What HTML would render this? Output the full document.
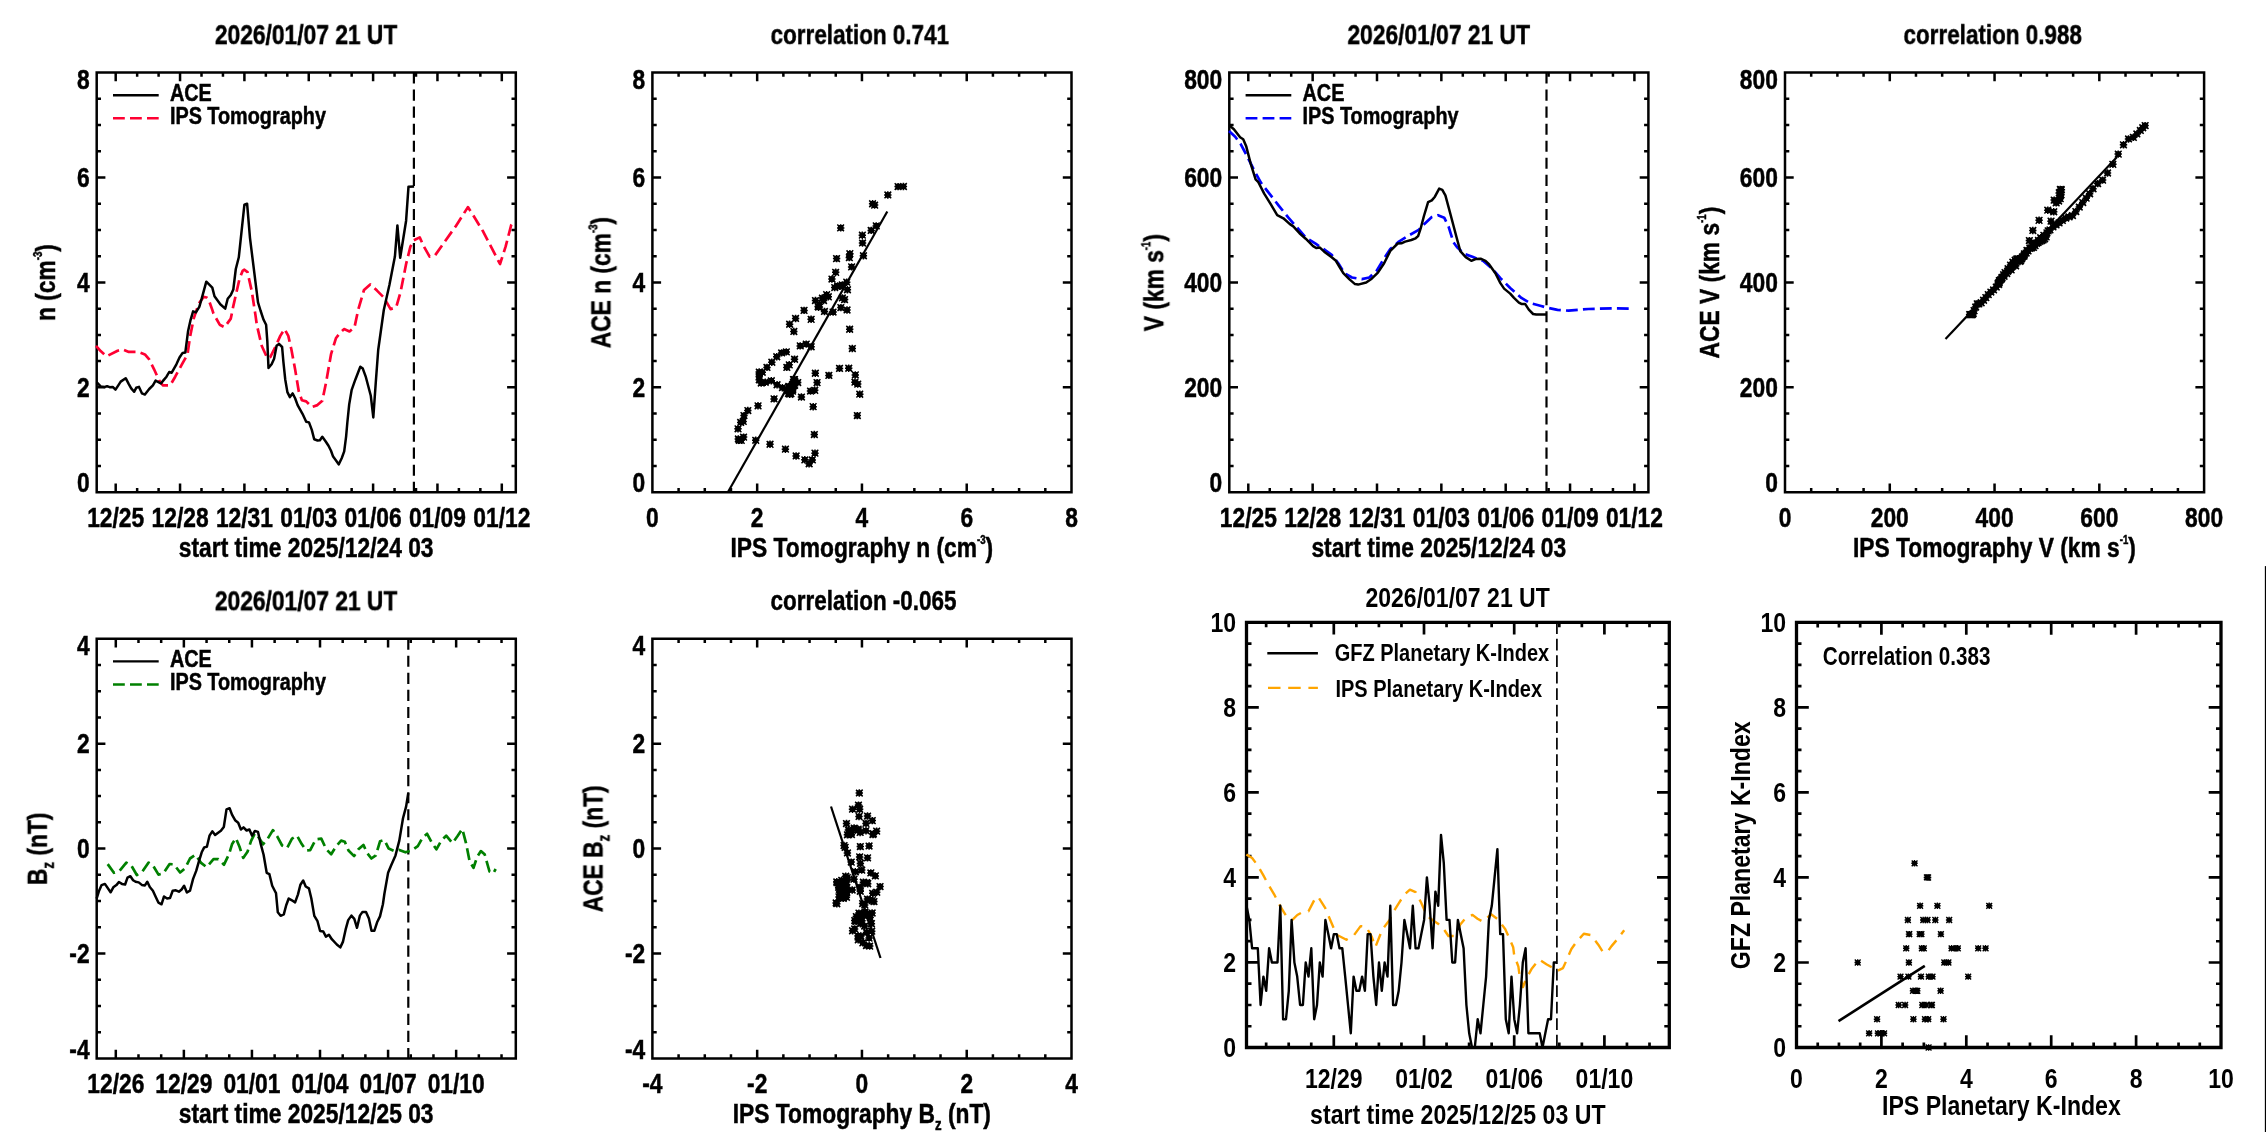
<!DOCTYPE html>
<html><head><meta charset="utf-8"><title>IPS Tomography vs ACE</title>
<style>html,body{margin:0;padding:0;background:#fff}svg{display:block;will-change:transform}</style></head>
<body>
<svg width="2266" height="1132" viewBox="0 0 2266 1132" font-family="Liberation Sans, sans-serif" font-weight="bold" fill="#000">
<rect width="2266" height="1132" fill="#fff"/>
<filter id="soft" filterUnits="userSpaceOnUse" x="0" y="0" width="2266" height="1132"><feGaussianBlur stdDeviation="0.5"/></filter>
<g filter="url(#soft)">
<path d="M96.70 72.50H515.80V492.30H96.70ZM115.70 492.30v-8.7M115.70 72.50v8.7M180.05 492.30v-8.7M180.05 72.50v8.7M244.40 492.30v-8.7M244.40 72.50v8.7M308.75 492.30v-8.7M308.75 72.50v8.7M373.10 492.30v-8.7M373.10 72.50v8.7M437.45 492.30v-8.7M437.45 72.50v8.7M501.80 492.30v-8.7M501.80 72.50v8.7M137.15 492.30v-4.3M137.15 72.50v4.3M158.60 492.30v-4.3M158.60 72.50v4.3M201.50 492.30v-4.3M201.50 72.50v4.3M222.95 492.30v-4.3M222.95 72.50v4.3M265.85 492.30v-4.3M265.85 72.50v4.3M287.30 492.30v-4.3M287.30 72.50v4.3M330.20 492.30v-4.3M330.20 72.50v4.3M351.65 492.30v-4.3M351.65 72.50v4.3M394.55 492.30v-4.3M394.55 72.50v4.3M416.00 492.30v-4.3M416.00 72.50v4.3M458.90 492.30v-4.3M458.90 72.50v4.3M480.35 492.30v-4.3M480.35 72.50v4.3M96.70 387.35h8.7M515.80 387.35h-8.7M96.70 282.40h8.7M515.80 282.40h-8.7M96.70 177.45h8.7M515.80 177.45h-8.7M96.70 466.06h4.3M515.80 466.06h-4.3M96.70 439.82h4.3M515.80 439.82h-4.3M96.70 413.59h4.3M515.80 413.59h-4.3M96.70 361.11h4.3M515.80 361.11h-4.3M96.70 334.88h4.3M515.80 334.88h-4.3M96.70 308.64h4.3M515.80 308.64h-4.3M96.70 256.16h4.3M515.80 256.16h-4.3M96.70 229.93h4.3M515.80 229.93h-4.3M96.70 203.69h4.3M515.80 203.69h-4.3M96.70 151.21h4.3M515.80 151.21h-4.3M96.70 124.98h4.3M515.80 124.98h-4.3M96.70 98.74h4.3M515.80 98.74h-4.3" fill="none" stroke="#000" stroke-width="2.5" stroke-linejoin="miter"/>
<text transform="translate(115.70,526.60) scale(0.8,1)" font-size="28.5" text-anchor="middle" stroke="#000" stroke-width="0.5">12/25</text>
<text transform="translate(180.05,526.60) scale(0.8,1)" font-size="28.5" text-anchor="middle" stroke="#000" stroke-width="0.5">12/28</text>
<text transform="translate(244.40,526.60) scale(0.8,1)" font-size="28.5" text-anchor="middle" stroke="#000" stroke-width="0.5">12/31</text>
<text transform="translate(308.75,526.60) scale(0.8,1)" font-size="28.5" text-anchor="middle" stroke="#000" stroke-width="0.5">01/03</text>
<text transform="translate(373.10,526.60) scale(0.8,1)" font-size="28.5" text-anchor="middle" stroke="#000" stroke-width="0.5">01/06</text>
<text transform="translate(437.45,526.60) scale(0.8,1)" font-size="28.5" text-anchor="middle" stroke="#000" stroke-width="0.5">01/09</text>
<text transform="translate(501.80,526.60) scale(0.8,1)" font-size="28.5" text-anchor="middle" stroke="#000" stroke-width="0.5">01/12</text>
<text transform="translate(89.60,492.40) scale(0.8,1)" font-size="28.5" text-anchor="end" stroke="#000" stroke-width="0.5">0</text>
<text transform="translate(89.60,397.10) scale(0.8,1)" font-size="28.5" text-anchor="end" stroke="#000" stroke-width="0.5">2</text>
<text transform="translate(89.60,292.15) scale(0.8,1)" font-size="28.5" text-anchor="end" stroke="#000" stroke-width="0.5">4</text>
<text transform="translate(89.60,187.20) scale(0.8,1)" font-size="28.5" text-anchor="end" stroke="#000" stroke-width="0.5">6</text>
<text transform="translate(89.60,88.90) scale(0.8,1)" font-size="28.5" text-anchor="end" stroke="#000" stroke-width="0.5">8</text>
<text transform="translate(306.10,44.10) scale(0.8,1)" font-size="28.5" text-anchor="middle" stroke="#000" stroke-width="0.5">2026/01/07 21 UT</text>
<text transform="translate(306.15,556.80) scale(0.8,1)" font-size="28.5" text-anchor="middle" stroke="#000" stroke-width="0.5">start time 2025/12/24 03</text>
<text transform="translate(55.00,282.60) rotate(-90) scale(0.8,1)" font-size="28.5" text-anchor="middle" stroke="#000" stroke-width="0.5">n (cm<tspan dy="-13" font-size="12.0">-3</tspan><tspan dy="13">)</tspan></text>
<line x1="413.90" y1="72.50" x2="413.90" y2="492.30" stroke="#000" stroke-width="2.2" stroke-dasharray="11.1 5.95" stroke-linecap="butt"/>
<polyline points="96.0,345.8 100.9,351.3 106.5,356.3 117.6,350.7 122.6,349.5 128.8,351.9 138.0,351.9 144.9,354.4 149.2,359.4 154.1,369.3 159.1,380.4 162.8,385.3 170.2,385.3 175.2,376.7 182.6,363.1 187.5,354.4 190.0,337.1 193.7,318.6 198.7,303.7 203.6,296.9 206.7,297.5 208.5,299.3 212.3,309.9 213.5,313.6 219.7,324.7 224.6,327.2 230.8,318.6 233.3,306.1 239.5,278.9 242.6,270.9 244.4,269.7 247.5,272.1 251.8,291.3 255.5,315.4 256.8,324.7 261.7,345.8 267.3,358.1 270.4,356.9 275.3,347.0 280.3,335.9 284.6,329.1 288.3,335.9 291.4,349.5 295.1,369.3 298.8,391.5 301.9,400.2 306.2,401.4 311.8,407.0 317.4,405.1 322.3,400.8 326.0,382.9 331.0,354.4 335.9,338.3 339.6,333.4 344.0,329.1 349.5,331.5 354.5,327.2 358.2,309.9 364.0,290.0 370.2,284.4 377.0,290.6 383.8,297.4 390.6,309.1 396.2,307.3 400.5,292.4 406.1,264.0 410.4,246.7 413.5,240.5 419.7,237.4 424.0,246.7 429.6,256.6 435.1,255.3 443.8,243.0 456.1,225.7 467.9,207.1 473.5,215.8 483.3,231.8 500.0,264.0 505.6,246.7 511.2,225.0 512.4,223.2" fill="none" stroke="#ff0032" stroke-width="2.7" stroke-dasharray="11.8 5.2" stroke-linejoin="round" />
<polyline points="96.6,382.2 100.9,386.6 104.7,386.9 107.1,386.2 109.6,387.2 112.7,386.9 115.5,389.7 118.3,385.3 120.7,381.6 125.7,378.2 128.8,384.1 131.2,388.4 134.1,391.8 136.2,387.8 139.0,386.9 142.0,393.4 144.9,394.6 149.2,389.0 152.9,385.3 155.6,380.6 160.9,383.5 163.4,380.4 166.5,376.7 169.2,372.0 171.7,372.7 176.4,364.3 179.5,357.5 182.6,352.9 185.3,352.6 188.1,330.9 190.6,319.8 193.1,311.4 195.9,312.4 199.3,306.8 201.7,298.7 206.3,281.7 212.3,287.6 214.5,296.3 220.3,304.3 225.2,308.6 227.7,298.7 230.8,295.0 233.3,289.5 235.8,269.0 238.8,257.3 244.4,204.7 247.1,203.7 250.0,238.1 258.0,302.4 260.5,310.5 263.6,319.8 266.1,324.7 267.3,340.8 268.5,368.0 271.6,364.3 274.1,358.7 276.6,345.8 279.0,343.9 282.1,347.0 283.4,361.8 285.2,379.2 287.4,392.1 289.9,397.1 292.6,393.4 295.1,398.3 297.6,405.1 302.5,413.8 306.2,421.8 309.0,422.4 311.8,429.9 314.2,439.3 317.6,440.5 319.9,440.3 322.3,436.8 325.7,441.5 328.5,445.8 331.0,450.8 333.1,456.6 336.2,460.7 338.7,464.4 341.7,458.2 344.2,451.4 346.1,436.6 347.3,423.0 349.2,404.4 351.6,390.2 355.3,379.7 360.3,366.7 362.8,368.6 365.9,377.2 370.8,395.8 373.3,417.4 375.8,382.2 378.2,350.0 383.8,310.0 389.4,285.0 394.9,256.6 397.4,225.4 400.2,257.8 406.1,220.7 408.5,186.7 414.1,186.4" fill="none" stroke="#000" stroke-width="2.5" stroke-linejoin="round" />
<line x1="113.00" y1="95.20" x2="158.70" y2="95.20" stroke="#000" stroke-width="2.4" stroke-linecap="butt"/>
<line x1="113.00" y1="118.30" x2="158.70" y2="118.30" stroke="#ff0032" stroke-width="2.5" stroke-dasharray="11.8 5.2" stroke-linecap="butt"/>
<text transform="translate(169.90,101.10) scale(0.8,1)" font-size="24.8" text-anchor="start" stroke="#000" stroke-width="0.5">ACE</text>
<text transform="translate(169.90,123.70) scale(0.8,1)" font-size="24.8" text-anchor="start" stroke="#000" stroke-width="0.5">IPS Tomography</text>
<path d="M1229.30 72.50H1648.40V492.30H1229.30ZM1248.30 492.30v-8.7M1248.30 72.50v8.7M1312.65 492.30v-8.7M1312.65 72.50v8.7M1377.00 492.30v-8.7M1377.00 72.50v8.7M1441.35 492.30v-8.7M1441.35 72.50v8.7M1505.70 492.30v-8.7M1505.70 72.50v8.7M1570.05 492.30v-8.7M1570.05 72.50v8.7M1634.40 492.30v-8.7M1634.40 72.50v8.7M1269.75 492.30v-4.3M1269.75 72.50v4.3M1291.20 492.30v-4.3M1291.20 72.50v4.3M1334.10 492.30v-4.3M1334.10 72.50v4.3M1355.55 492.30v-4.3M1355.55 72.50v4.3M1398.45 492.30v-4.3M1398.45 72.50v4.3M1419.90 492.30v-4.3M1419.90 72.50v4.3M1462.80 492.30v-4.3M1462.80 72.50v4.3M1484.25 492.30v-4.3M1484.25 72.50v4.3M1527.15 492.30v-4.3M1527.15 72.50v4.3M1548.60 492.30v-4.3M1548.60 72.50v4.3M1591.50 492.30v-4.3M1591.50 72.50v4.3M1612.95 492.30v-4.3M1612.95 72.50v4.3M1229.30 387.35h8.7M1648.40 387.35h-8.7M1229.30 282.40h8.7M1648.40 282.40h-8.7M1229.30 177.45h8.7M1648.40 177.45h-8.7M1229.30 466.06h4.3M1648.40 466.06h-4.3M1229.30 439.82h4.3M1648.40 439.82h-4.3M1229.30 413.59h4.3M1648.40 413.59h-4.3M1229.30 361.11h4.3M1648.40 361.11h-4.3M1229.30 334.88h4.3M1648.40 334.88h-4.3M1229.30 308.64h4.3M1648.40 308.64h-4.3M1229.30 256.16h4.3M1648.40 256.16h-4.3M1229.30 229.93h4.3M1648.40 229.93h-4.3M1229.30 203.69h4.3M1648.40 203.69h-4.3M1229.30 151.21h4.3M1648.40 151.21h-4.3M1229.30 124.98h4.3M1648.40 124.98h-4.3M1229.30 98.74h4.3M1648.40 98.74h-4.3" fill="none" stroke="#000" stroke-width="2.5" stroke-linejoin="miter"/>
<text transform="translate(1248.30,526.60) scale(0.8,1)" font-size="28.5" text-anchor="middle" stroke="#000" stroke-width="0.5">12/25</text>
<text transform="translate(1312.65,526.60) scale(0.8,1)" font-size="28.5" text-anchor="middle" stroke="#000" stroke-width="0.5">12/28</text>
<text transform="translate(1377.00,526.60) scale(0.8,1)" font-size="28.5" text-anchor="middle" stroke="#000" stroke-width="0.5">12/31</text>
<text transform="translate(1441.35,526.60) scale(0.8,1)" font-size="28.5" text-anchor="middle" stroke="#000" stroke-width="0.5">01/03</text>
<text transform="translate(1505.70,526.60) scale(0.8,1)" font-size="28.5" text-anchor="middle" stroke="#000" stroke-width="0.5">01/06</text>
<text transform="translate(1570.05,526.60) scale(0.8,1)" font-size="28.5" text-anchor="middle" stroke="#000" stroke-width="0.5">01/09</text>
<text transform="translate(1634.40,526.60) scale(0.8,1)" font-size="28.5" text-anchor="middle" stroke="#000" stroke-width="0.5">01/12</text>
<text transform="translate(1222.20,492.40) scale(0.8,1)" font-size="28.5" text-anchor="end" stroke="#000" stroke-width="0.5">0</text>
<text transform="translate(1222.20,397.10) scale(0.8,1)" font-size="28.5" text-anchor="end" stroke="#000" stroke-width="0.5">200</text>
<text transform="translate(1222.20,292.15) scale(0.8,1)" font-size="28.5" text-anchor="end" stroke="#000" stroke-width="0.5">400</text>
<text transform="translate(1222.20,187.20) scale(0.8,1)" font-size="28.5" text-anchor="end" stroke="#000" stroke-width="0.5">600</text>
<text transform="translate(1222.20,88.90) scale(0.8,1)" font-size="28.5" text-anchor="end" stroke="#000" stroke-width="0.5">800</text>
<text transform="translate(1438.70,44.10) scale(0.8,1)" font-size="28.5" text-anchor="middle" stroke="#000" stroke-width="0.5">2026/01/07 21 UT</text>
<text transform="translate(1438.75,556.80) scale(0.8,1)" font-size="28.5" text-anchor="middle" stroke="#000" stroke-width="0.5">start time 2025/12/24 03</text>
<text transform="translate(1163.30,282.60) rotate(-90) scale(0.8,1)" font-size="28.5" text-anchor="middle" stroke="#000" stroke-width="0.5">V (km s<tspan dy="-13" font-size="12.0">-1</tspan><tspan dy="13">)</tspan></text>
<line x1="1546.50" y1="72.50" x2="1546.50" y2="492.30" stroke="#000" stroke-width="2.2" stroke-dasharray="11.1 5.95" stroke-linecap="butt"/>
<polyline points="1229.0,131.1 1235.2,136.7 1240.7,144.1 1246.3,154.6 1253.7,169.5 1261.2,183.1 1269.8,194.2 1278.5,205.3 1288.4,217.7 1298.3,228.8 1305.7,237.5 1315.6,243.7 1323.0,248.6 1331.7,254.8 1338.3,263.3 1344.5,273.2 1351.9,277.5 1361.8,279.1 1369.3,277.5 1376.7,270.7 1384.1,258.3 1390.3,249.1 1398.9,241.6 1408.8,235.5 1418.7,229.9 1424.4,223.9 1431.8,217.1 1438.0,215.2 1444.2,217.7 1448.5,226.4 1453.5,242.4 1457.1,247.2 1464.5,254.0 1473.1,257.1 1483.0,260.8 1491.7,268.2 1500.4,278.1 1510.2,288.0 1521.4,297.9 1530.0,303.1 1541.2,306.0 1547.3,307.8 1557.5,309.9 1568.6,310.7 1588.4,309.0 1613.1,308.4 1632.9,308.6" fill="none" stroke="#0000ff" stroke-width="2.7" stroke-dasharray="11.8 5.2" stroke-linejoin="round" />
<polyline points="1229.6,125.6 1233.9,129.3 1240.1,137.3 1243.2,139.2 1246.3,146.6 1250.6,163.3 1255.6,179.4 1258.1,181.8 1264.2,193.6 1271.0,204.7 1277.2,215.2 1283.4,218.3 1289.6,223.9 1293.3,226.4 1299.5,233.2 1305.7,238.7 1313.1,246.1 1316.2,248.0 1319.9,247.6 1324.2,251.7 1331.7,257.3 1335.9,260.8 1339.6,267.0 1343.3,273.2 1349.5,279.4 1355.0,284.1 1358.1,284.6 1366.2,282.5 1371.7,278.7 1377.9,272.6 1384.1,263.3 1390.3,250.9 1397.7,243.5 1401.4,243.3 1405.1,241.6 1411.3,240.0 1415.6,238.3 1418.1,236.1 1420.6,228.7 1423.8,216.5 1428.1,202.2 1431.8,200.4 1434.9,196.7 1439.2,188.6 1442.3,189.9 1445.4,195.4 1450.4,214.0 1456.6,237.5 1460.3,251.1 1465.7,257.1 1471.3,260.8 1475.6,259.0 1480.6,258.7 1485.5,260.8 1489.2,264.5 1495.4,273.2 1500.4,283.1 1504.1,288.6 1510.2,293.6 1514.0,297.9 1518.9,302.6 1521.4,303.9 1525.1,303.9 1528.8,309.7 1533.1,314.0 1536.2,314.6 1546.1,314.6" fill="none" stroke="#000" stroke-width="2.5" stroke-linejoin="round" />
<line x1="1245.60" y1="95.20" x2="1291.30" y2="95.20" stroke="#000" stroke-width="2.4" stroke-linecap="butt"/>
<line x1="1245.60" y1="118.30" x2="1291.30" y2="118.30" stroke="#0000ff" stroke-width="2.5" stroke-dasharray="11.8 5.2" stroke-linecap="butt"/>
<text transform="translate(1302.50,101.10) scale(0.8,1)" font-size="24.8" text-anchor="start" stroke="#000" stroke-width="0.5">ACE</text>
<text transform="translate(1302.50,123.70) scale(0.8,1)" font-size="24.8" text-anchor="start" stroke="#000" stroke-width="0.5">IPS Tomography</text>
<path d="M96.70 638.70H515.80V1058.50H96.70ZM115.80 1058.50v-8.7M115.80 638.70v8.7M183.87 1058.50v-8.7M183.87 638.70v8.7M251.94 1058.50v-8.7M251.94 638.70v8.7M320.01 1058.50v-8.7M320.01 638.70v8.7M388.08 1058.50v-8.7M388.08 638.70v8.7M456.15 1058.50v-8.7M456.15 638.70v8.7M138.49 1058.50v-4.3M138.49 638.70v4.3M161.18 1058.50v-4.3M161.18 638.70v4.3M206.56 1058.50v-4.3M206.56 638.70v4.3M229.25 1058.50v-4.3M229.25 638.70v4.3M274.63 1058.50v-4.3M274.63 638.70v4.3M297.32 1058.50v-4.3M297.32 638.70v4.3M342.70 1058.50v-4.3M342.70 638.70v4.3M365.39 1058.50v-4.3M365.39 638.70v4.3M410.77 1058.50v-4.3M410.77 638.70v4.3M433.46 1058.50v-4.3M433.46 638.70v4.3M478.84 1058.50v-4.3M478.84 638.70v4.3M501.53 1058.50v-4.3M501.53 638.70v4.3M96.70 953.55h8.7M515.80 953.55h-8.7M96.70 848.60h8.7M515.80 848.60h-8.7M96.70 743.65h8.7M515.80 743.65h-8.7M96.70 1032.26h4.3M515.80 1032.26h-4.3M96.70 1006.02h4.3M515.80 1006.02h-4.3M96.70 979.79h4.3M515.80 979.79h-4.3M96.70 927.31h4.3M515.80 927.31h-4.3M96.70 901.08h4.3M515.80 901.08h-4.3M96.70 874.84h4.3M515.80 874.84h-4.3M96.70 822.36h4.3M515.80 822.36h-4.3M96.70 796.12h4.3M515.80 796.12h-4.3M96.70 769.89h4.3M515.80 769.89h-4.3M96.70 717.41h4.3M515.80 717.41h-4.3M96.70 691.17h4.3M515.80 691.17h-4.3M96.70 664.94h4.3M515.80 664.94h-4.3" fill="none" stroke="#000" stroke-width="2.5" stroke-linejoin="miter"/>
<text transform="translate(115.80,1092.80) scale(0.8,1)" font-size="28.5" text-anchor="middle" stroke="#000" stroke-width="0.5">12/26</text>
<text transform="translate(183.87,1092.80) scale(0.8,1)" font-size="28.5" text-anchor="middle" stroke="#000" stroke-width="0.5">12/29</text>
<text transform="translate(251.94,1092.80) scale(0.8,1)" font-size="28.5" text-anchor="middle" stroke="#000" stroke-width="0.5">01/01</text>
<text transform="translate(320.01,1092.80) scale(0.8,1)" font-size="28.5" text-anchor="middle" stroke="#000" stroke-width="0.5">01/04</text>
<text transform="translate(388.08,1092.80) scale(0.8,1)" font-size="28.5" text-anchor="middle" stroke="#000" stroke-width="0.5">01/07</text>
<text transform="translate(456.15,1092.80) scale(0.8,1)" font-size="28.5" text-anchor="middle" stroke="#000" stroke-width="0.5">01/10</text>
<text transform="translate(89.60,1058.60) scale(0.8,1)" font-size="28.5" text-anchor="end" stroke="#000" stroke-width="0.5">-4</text>
<text transform="translate(89.60,963.30) scale(0.8,1)" font-size="28.5" text-anchor="end" stroke="#000" stroke-width="0.5">-2</text>
<text transform="translate(89.60,858.35) scale(0.8,1)" font-size="28.5" text-anchor="end" stroke="#000" stroke-width="0.5">0</text>
<text transform="translate(89.60,753.40) scale(0.8,1)" font-size="28.5" text-anchor="end" stroke="#000" stroke-width="0.5">2</text>
<text transform="translate(89.60,655.10) scale(0.8,1)" font-size="28.5" text-anchor="end" stroke="#000" stroke-width="0.5">4</text>
<text transform="translate(306.10,610.30) scale(0.8,1)" font-size="28.5" text-anchor="middle" stroke="#000" stroke-width="0.5">2026/01/07 21 UT</text>
<text transform="translate(306.15,1123.00) scale(0.8,1)" font-size="28.5" text-anchor="middle" stroke="#000" stroke-width="0.5">start time 2025/12/25 03</text>
<text transform="translate(46.80,848.80) rotate(-90) scale(0.8,1)" font-size="28.5" text-anchor="middle" stroke="#000" stroke-width="0.5">B<tspan dy="7" font-size="16.5">z</tspan><tspan dy="-7"> </tspan>(nT)</text>
<line x1="408.30" y1="638.70" x2="408.30" y2="1058.50" stroke="#000" stroke-width="2.2" stroke-dasharray="11.1 5.95" stroke-linecap="butt"/>
<polyline points="107.7,864.1 113.9,872.8 119.5,870.9 126.3,862.6 131.2,865.3 136.8,875.0 142.4,871.5 148.6,862.6 152.9,865.3 158.5,874.6 163.4,873.4 169.6,864.1 173.9,864.3 180.1,872.5 185.0,868.4 190.0,858.5 195.6,854.8 201.1,862.9 206.7,867.2 213.5,859.2 218.4,859.2 224.0,864.7 229.0,854.2 232.0,844.3 235.8,838.1 239.5,846.8 243.2,857.9 247.5,851.7 251.2,840.6 254.9,833.2 259.3,838.1 263.0,844.3 267.3,839.4 272.9,830.1 277.2,836.3 282.1,845.5 287.1,848.0 292.0,838.7 297.0,835.7 301.9,844.3 306.2,850.5 310.2,850.2 315.8,839.4 321.3,838.7 326.3,849.3 331.2,854.2 336.2,846.2 341.1,840.6 344.8,841.8 348.5,850.5 354.1,856.1 358.4,849.3 363.4,844.9 367.1,853.0 371.4,858.5 375.8,855.4 380.1,841.2 384.4,840.0 388.7,848.6 394.3,851.1 399.3,849.9 405.4,852.3 411.6,850.5 417.8,846.2 422.7,837.5 427.1,833.8 431.4,841.8 436.4,849.3 441.3,840.6 446.2,835.7 452.4,843.1 457.4,836.3 462.3,828.9 466.0,843.1 469.7,861.6 473.5,867.8 477.2,856.7 480.9,851.1 484.6,854.2 489.5,871.5 493.2,873.4 495.7,869.0" fill="none" stroke="#008000" stroke-width="2.7" stroke-dasharray="11.8 5.2" stroke-linejoin="round" />
<polyline points="96.6,898.7 99.1,890.7 101.6,885.1 104.9,883.9 110.6,892.3 113.3,887.3 116.4,885.1 118.9,882.0 122.0,883.9 125.1,884.5 127.5,877.7 130.4,876.2 133.1,880.2 135.6,881.7 138.7,882.4 141.8,884.9 144.9,885.4 147.3,881.7 149.8,887.0 152.9,890.7 156.0,897.5 158.5,902.7 161.5,904.3 164.0,896.5 167.1,898.5 170.0,898.1 172.7,890.7 175.8,890.3 178.9,891.7 181.6,889.5 184.1,885.7 186.9,892.5 190.0,890.7 193.1,878.9 196.2,870.9 198.7,862.2 201.7,852.3 204.2,847.4 206.9,846.8 209.5,835.7 212.3,831.3 215.1,835.0 217.8,832.9 220.9,830.7 223.8,827.0 226.5,809.4 229.6,808.2 232.0,814.6 235.1,820.2 238.2,822.7 240.9,829.5 243.5,827.4 246.6,830.5 249.4,829.5 252.1,835.7 254.9,831.0 258.0,831.9 260.5,843.1 263.6,854.8 266.7,872.8 269.4,874.2 272.2,885.7 275.0,891.3 276.0,893.2 277.8,912.3 280.6,915.8 283.8,914.4 286.2,905.2 288.7,898.5 291.9,900.3 295.1,902.4 297.9,894.6 300.4,884.7 303.2,880.5 305.7,886.5 308.9,888.3 311.3,898.2 314.3,915.9 317.5,921.2 320.1,931.0 323.3,931.5 325.9,936.6 328.9,934.7 331.8,939.2 336.8,944.5 340.3,947.4 342.9,941.9 345.6,929.7 348.2,920.1 351.4,915.6 354.3,918.8 357.0,927.8 359.9,915.6 362.5,911.9 366.0,911.9 368.9,918.6 371.5,930.7 374.4,930.7 377.1,922.3 380.0,916.4 382.9,904.2 384.4,893.8 388.1,872.8 391.2,865.3 395.5,855.4 399.3,840.6 403.0,818.3 406.1,806.6 408.3,793.0" fill="none" stroke="#000" stroke-width="2.5" stroke-linejoin="round" />
<line x1="113.00" y1="661.40" x2="158.70" y2="661.40" stroke="#000" stroke-width="2.4" stroke-linecap="butt"/>
<line x1="113.00" y1="684.50" x2="158.70" y2="684.50" stroke="#008000" stroke-width="2.5" stroke-dasharray="11.8 5.2" stroke-linecap="butt"/>
<text transform="translate(169.90,667.30) scale(0.8,1)" font-size="24.8" text-anchor="start" stroke="#000" stroke-width="0.5">ACE</text>
<text transform="translate(169.90,689.90) scale(0.8,1)" font-size="24.8" text-anchor="start" stroke="#000" stroke-width="0.5">IPS Tomography</text>
<path d="M652.40 72.50H1071.50V492.30H652.40ZM757.17 492.30v-8.7M757.17 72.50v8.7M861.95 492.30v-8.7M861.95 72.50v8.7M966.73 492.30v-8.7M966.73 72.50v8.7M678.59 492.30v-4.3M678.59 72.50v4.3M704.79 492.30v-4.3M704.79 72.50v4.3M730.98 492.30v-4.3M730.98 72.50v4.3M783.37 492.30v-4.3M783.37 72.50v4.3M809.56 492.30v-4.3M809.56 72.50v4.3M835.76 492.30v-4.3M835.76 72.50v4.3M888.14 492.30v-4.3M888.14 72.50v4.3M914.34 492.30v-4.3M914.34 72.50v4.3M940.53 492.30v-4.3M940.53 72.50v4.3M992.92 492.30v-4.3M992.92 72.50v4.3M1019.11 492.30v-4.3M1019.11 72.50v4.3M1045.31 492.30v-4.3M1045.31 72.50v4.3M652.40 387.35h8.7M1071.50 387.35h-8.7M652.40 282.40h8.7M1071.50 282.40h-8.7M652.40 177.45h8.7M1071.50 177.45h-8.7M652.40 466.06h4.3M1071.50 466.06h-4.3M652.40 439.82h4.3M1071.50 439.82h-4.3M652.40 413.59h4.3M1071.50 413.59h-4.3M652.40 361.11h4.3M1071.50 361.11h-4.3M652.40 334.88h4.3M1071.50 334.88h-4.3M652.40 308.64h4.3M1071.50 308.64h-4.3M652.40 256.16h4.3M1071.50 256.16h-4.3M652.40 229.93h4.3M1071.50 229.93h-4.3M652.40 203.69h4.3M1071.50 203.69h-4.3M652.40 151.21h4.3M1071.50 151.21h-4.3M652.40 124.98h4.3M1071.50 124.98h-4.3M652.40 98.74h4.3M1071.50 98.74h-4.3" fill="none" stroke="#000" stroke-width="2.5" stroke-linejoin="miter"/>
<text transform="translate(652.40,526.60) scale(0.8,1)" font-size="28.5" text-anchor="middle" stroke="#000" stroke-width="0.5">0</text>
<text transform="translate(757.17,526.60) scale(0.8,1)" font-size="28.5" text-anchor="middle" stroke="#000" stroke-width="0.5">2</text>
<text transform="translate(861.95,526.60) scale(0.8,1)" font-size="28.5" text-anchor="middle" stroke="#000" stroke-width="0.5">4</text>
<text transform="translate(966.73,526.60) scale(0.8,1)" font-size="28.5" text-anchor="middle" stroke="#000" stroke-width="0.5">6</text>
<text transform="translate(1071.50,526.60) scale(0.8,1)" font-size="28.5" text-anchor="middle" stroke="#000" stroke-width="0.5">8</text>
<text transform="translate(645.30,492.40) scale(0.8,1)" font-size="28.5" text-anchor="end" stroke="#000" stroke-width="0.5">0</text>
<text transform="translate(645.30,397.10) scale(0.8,1)" font-size="28.5" text-anchor="end" stroke="#000" stroke-width="0.5">2</text>
<text transform="translate(645.30,292.15) scale(0.8,1)" font-size="28.5" text-anchor="end" stroke="#000" stroke-width="0.5">4</text>
<text transform="translate(645.30,187.20) scale(0.8,1)" font-size="28.5" text-anchor="end" stroke="#000" stroke-width="0.5">6</text>
<text transform="translate(645.30,88.90) scale(0.8,1)" font-size="28.5" text-anchor="end" stroke="#000" stroke-width="0.5">8</text>
<text transform="translate(770.60,44.10) scale(0.788,1)" font-size="28.5" text-anchor="start" stroke="#000" stroke-width="0.5">correlation 0.741</text>
<text transform="translate(861.85,556.80) scale(0.8,1)" font-size="28.5" text-anchor="middle" stroke="#000" stroke-width="0.5">IPS Tomography n (cm<tspan dy="-13" font-size="12.0">-3</tspan><tspan dy="13">)</tspan></text>
<text transform="translate(610.40,282.60) rotate(-90) scale(0.8,1)" font-size="28.5" text-anchor="middle" stroke="#000" stroke-width="0.5">ACE n (cm<tspan dy="-13" font-size="12.0">-3</tspan><tspan dy="13">)</tspan></text>
<path d="M794.0 382.5h7.4M797.7 378.8v7.4M794.4 379.2l6.7 6.7M794.4 385.9l6.7 -6.7M791.0 385.2h7.4M794.7 381.5v7.4M791.3 381.9l6.7 6.7M791.3 388.5l6.7 -6.7M788.3 386.7h7.4M792.0 383.0v7.4M788.6 383.4l6.7 6.7M788.6 390.0l6.7 -6.7M785.9 386.9h7.4M789.6 383.2v7.4M786.3 383.5l6.7 6.7M786.3 390.2l6.7 -6.7M785.1 386.4h7.4M788.8 382.7v7.4M785.4 383.1l6.7 6.7M785.4 389.7l6.7 -6.7M786.4 387.1h7.4M790.1 383.4v7.4M786.8 383.8l6.7 6.7M786.8 390.5l6.7 -6.7M787.7 387.2h7.4M791.4 383.5v7.4M788.1 383.9l6.7 6.7M788.1 390.6l6.7 -6.7M789.1 389.5h7.4M792.8 385.8v7.4M789.4 386.1l6.7 6.7M789.4 392.8l6.7 -6.7M790.2 385.2h7.4M793.9 381.5v7.4M790.6 381.9l6.7 6.7M790.6 388.5l6.7 -6.7M790.9 381.4h7.4M794.6 377.7v7.4M791.3 378.1l6.7 6.7M791.3 384.7l6.7 -6.7M790.8 379.5h7.4M794.5 375.8v7.4M791.2 376.2l6.7 6.7M791.2 382.9l6.7 -6.7M789.8 379.5h7.4M793.5 375.8v7.4M790.1 376.2l6.7 6.7M790.1 382.9l6.7 -6.7M788.8 384.6h7.4M792.5 380.9v7.4M789.2 381.3l6.7 6.7M789.2 388.0l6.7 -6.7M788.8 389.0h7.4M792.5 385.3v7.4M789.2 385.7l6.7 6.7M789.2 392.4l6.7 -6.7M788.8 391.1h7.4M792.5 387.4v7.4M789.2 387.8l6.7 6.7M789.2 394.4l6.7 -6.7M788.8 387.5h7.4M792.5 383.8v7.4M789.2 384.2l6.7 6.7M789.2 390.9l6.7 -6.7M788.2 388.6h7.4M791.9 384.9v7.4M788.6 385.3l6.7 6.7M788.6 391.9l6.7 -6.7M787.2 393.6h7.4M790.9 389.9v7.4M787.6 390.3l6.7 6.7M787.6 396.9l6.7 -6.7M786.0 394.2h7.4M789.7 390.5v7.4M786.4 390.9l6.7 6.7M786.4 397.5l6.7 -6.7M782.9 390.8h7.4M786.6 387.1v7.4M783.3 387.4l6.7 6.7M783.3 394.1l6.7 -6.7M778.7 387.7h7.4M782.4 384.0v7.4M779.1 384.4l6.7 6.7M779.1 391.0l6.7 -6.7M773.4 384.8h7.4M777.1 381.1v7.4M773.7 381.5l6.7 6.7M773.7 388.1l6.7 -6.7M767.6 380.8h7.4M771.3 377.1v7.4M768.0 377.5l6.7 6.7M768.0 384.1l6.7 -6.7M761.6 382.2h7.4M765.3 378.5v7.4M761.9 378.9l6.7 6.7M761.9 385.5l6.7 -6.7M757.5 383.1h7.4M761.2 379.4v7.4M757.9 379.7l6.7 6.7M757.9 386.4l6.7 -6.7M755.5 379.8h7.4M759.2 376.1v7.4M755.9 376.4l6.7 6.7M755.9 383.1l6.7 -6.7M755.5 376.5h7.4M759.2 372.8v7.4M755.9 373.1l6.7 6.7M755.9 379.8l6.7 -6.7M755.5 372.0h7.4M759.2 368.3v7.4M755.9 368.7l6.7 6.7M755.9 375.3l6.7 -6.7M758.6 372.2h7.4M762.3 368.5v7.4M758.9 368.9l6.7 6.7M758.9 375.5l6.7 -6.7M763.3 367.4h7.4M767.0 363.7v7.4M763.6 364.1l6.7 6.7M763.6 370.7l6.7 -6.7M768.1 362.2h7.4M771.8 358.5v7.4M768.5 358.9l6.7 6.7M768.5 365.6l6.7 -6.7M773.0 356.7h7.4M776.7 353.0v7.4M773.4 353.4l6.7 6.7M773.4 360.0l6.7 -6.7M777.9 352.9h7.4M781.6 349.2v7.4M778.3 349.6l6.7 6.7M778.3 356.2l6.7 -6.7M782.6 351.9h7.4M786.3 348.2v7.4M783.0 348.6l6.7 6.7M783.0 355.2l6.7 -6.7M790.1 331.5h7.4M793.8 327.8v7.4M790.5 328.2l6.7 6.7M790.5 334.8l6.7 -6.7M807.4 319.3h7.4M811.1 315.6v7.4M807.8 316.0l6.7 6.7M807.8 322.7l6.7 -6.7M820.8 311.5h7.4M824.5 307.8v7.4M821.1 308.2l6.7 6.7M821.1 314.8l6.7 -6.7M829.4 312.1h7.4M833.1 308.4v7.4M829.7 308.7l6.7 6.7M829.7 315.4l6.7 -6.7M837.2 307.6h7.4M840.9 303.9v7.4M837.5 304.3l6.7 6.7M837.5 310.9l6.7 -6.7M840.9 299.6h7.4M844.6 295.9v7.4M841.2 296.3l6.7 6.7M841.2 303.0l6.7 -6.7M843.7 289.7h7.4M847.4 286.0v7.4M844.1 286.4l6.7 6.7M844.1 293.1l6.7 -6.7M843.0 282.2h7.4M846.7 278.5v7.4M843.4 278.8l6.7 6.7M843.4 285.5l6.7 -6.7M838.6 284.9h7.4M842.3 281.2v7.4M839.0 281.5l6.7 6.7M839.0 288.2l6.7 -6.7M831.0 287.5h7.4M834.7 283.8v7.4M831.4 284.2l6.7 6.7M831.4 290.9l6.7 -6.7M824.6 296.8h7.4M828.3 293.1v7.4M825.0 293.5l6.7 6.7M825.0 300.1l6.7 -6.7M819.8 300.5h7.4M823.5 296.8v7.4M820.2 297.2l6.7 6.7M820.2 303.8l6.7 -6.7M815.7 304.2h7.4M819.4 300.5v7.4M816.1 300.9l6.7 6.7M816.1 307.5l6.7 -6.7M814.4 306.6h7.4M818.1 302.9v7.4M814.7 303.3l6.7 6.7M814.7 309.9l6.7 -6.7M814.9 307.2h7.4M818.6 303.5v7.4M815.3 303.9l6.7 6.7M815.3 310.5l6.7 -6.7M818.6 298.0h7.4M822.3 294.3v7.4M819.0 294.7l6.7 6.7M819.0 301.4l6.7 -6.7M822.9 294.7h7.4M826.6 291.0v7.4M823.3 291.3l6.7 6.7M823.3 298.0l6.7 -6.7M836.1 286.4h7.4M839.8 282.7v7.4M836.5 283.1l6.7 6.7M836.5 289.8l6.7 -6.7M847.9 266.9h7.4M851.6 263.2v7.4M848.3 263.5l6.7 6.7M848.3 270.2l6.7 -6.7M859.7 255.8h7.4M863.4 252.1v7.4M860.1 252.4l6.7 6.7M860.1 259.1l6.7 -6.7M867.5 230.4h7.4M871.2 226.7v7.4M867.8 227.1l6.7 6.7M867.8 233.8l6.7 -6.7M870.9 205.1h7.4M874.6 201.4v7.4M871.3 201.8l6.7 6.7M871.3 208.5l6.7 -6.7M868.9 203.8h7.4M872.6 200.1v7.4M869.2 200.4l6.7 6.7M869.2 207.1l6.7 -6.7M858.6 235.2h7.4M862.3 231.5v7.4M859.0 231.8l6.7 6.7M859.0 238.5l6.7 -6.7M845.6 257.6h7.4M849.3 253.9v7.4M846.0 254.3l6.7 6.7M846.0 261.0l6.7 -6.7M828.2 279.1h7.4M831.9 275.4v7.4M828.6 275.7l6.7 6.7M828.6 282.4l6.7 -6.7M811.8 300.5h7.4M815.5 296.8v7.4M812.1 297.2l6.7 6.7M812.1 303.9l6.7 -6.7M800.4 310.4h7.4M804.1 306.7v7.4M800.7 307.1l6.7 6.7M800.7 313.7l6.7 -6.7M791.9 318.5h7.4M795.6 314.8v7.4M792.2 315.1l6.7 6.7M792.2 321.8l6.7 -6.7M785.9 324.3h7.4M789.6 320.6v7.4M786.3 320.9l6.7 6.7M786.3 327.6l6.7 -6.7M783.1 367.4h7.4M786.8 363.7v7.4M783.5 364.1l6.7 6.7M783.5 370.8l6.7 -6.7M785.5 364.8h7.4M789.2 361.1v7.4M785.9 361.5l6.7 6.7M785.9 368.2l6.7 -6.7M790.8 359.3h7.4M794.5 355.6v7.4M791.2 355.9l6.7 6.7M791.2 362.6l6.7 -6.7M796.5 345.9h7.4M800.2 342.2v7.4M796.9 342.5l6.7 6.7M796.9 349.2l6.7 -6.7M802.5 344.1h7.4M806.2 340.4v7.4M802.9 340.8l6.7 6.7M802.9 347.4l6.7 -6.7M807.4 346.8h7.4M811.1 343.1v7.4M807.8 343.4l6.7 6.7M807.8 350.1l6.7 -6.7M811.6 373.2h7.4M815.3 369.5v7.4M812.0 369.9l6.7 6.7M812.0 376.6l6.7 -6.7M806.8 391.1h7.4M810.5 387.4v7.4M807.2 387.8l6.7 6.7M807.2 394.4l6.7 -6.7M797.7 397.0h7.4M801.4 393.3v7.4M798.1 393.7l6.7 6.7M798.1 400.4l6.7 -6.7M784.8 393.4h7.4M788.5 389.7v7.4M785.1 390.1l6.7 6.7M785.1 396.7l6.7 -6.7M770.4 398.9h7.4M774.1 395.2v7.4M770.7 395.5l6.7 6.7M770.7 402.2l6.7 -6.7M754.3 405.8h7.4M758.0 402.1v7.4M754.7 402.5l6.7 6.7M754.7 409.2l6.7 -6.7M744.1 410.5h7.4M747.8 406.8v7.4M744.5 407.2l6.7 6.7M744.5 413.9l6.7 -6.7M740.3 415.6h7.4M744.0 411.9v7.4M740.6 412.2l6.7 6.7M740.6 418.9l6.7 -6.7M739.5 421.4h7.4M743.2 417.7v7.4M739.9 418.0l6.7 6.7M739.9 424.7l6.7 -6.7M737.0 422.4h7.4M740.7 418.7v7.4M737.3 419.1l6.7 6.7M737.3 425.7l6.7 -6.7M734.3 428.8h7.4M738.0 425.1v7.4M734.7 425.5l6.7 6.7M734.7 432.1l6.7 -6.7M734.6 439.0h7.4M738.3 435.3v7.4M735.0 435.6l6.7 6.7M735.0 442.3l6.7 -6.7M735.5 440.2h7.4M739.2 436.5v7.4M735.9 436.9l6.7 6.7M735.9 443.6l6.7 -6.7M737.5 440.3h7.4M741.2 436.6v7.4M737.9 437.0l6.7 6.7M737.9 443.7l6.7 -6.7M739.9 437.1h7.4M743.6 433.4v7.4M740.2 433.8l6.7 6.7M740.2 440.4l6.7 -6.7M752.0 440.3h7.4M755.7 436.6v7.4M752.4 437.0l6.7 6.7M752.4 443.6l6.7 -6.7M766.3 444.3h7.4M770.0 440.6v7.4M766.7 441.0l6.7 6.7M766.7 447.6l6.7 -6.7M781.7 449.2h7.4M785.4 445.5v7.4M782.1 445.8l6.7 6.7M782.1 452.5l6.7 -6.7M792.4 456.0h7.4M796.1 452.3v7.4M792.8 452.6l6.7 6.7M792.8 459.3l6.7 -6.7M801.1 459.8h7.4M804.8 456.1v7.4M801.5 456.5l6.7 6.7M801.5 463.2l6.7 -6.7M805.4 463.7h7.4M809.1 460.0v7.4M805.8 460.4l6.7 6.7M805.8 467.1l6.7 -6.7M808.6 459.9h7.4M812.3 456.2v7.4M809.0 456.6l6.7 6.7M809.0 463.2l6.7 -6.7M811.3 453.2h7.4M815.0 449.5v7.4M811.6 449.8l6.7 6.7M811.6 456.5l6.7 -6.7M810.6 434.5h7.4M814.3 430.8v7.4M811.0 431.2l6.7 6.7M811.0 437.9l6.7 -6.7M809.5 406.7h7.4M813.2 403.0v7.4M809.8 403.3l6.7 6.7M809.8 410.0l6.7 -6.7M811.0 390.3h7.4M814.7 386.6v7.4M811.4 387.0l6.7 6.7M811.4 393.6l6.7 -6.7M813.4 382.6h7.4M817.1 378.9v7.4M813.7 379.3l6.7 6.7M813.7 386.0l6.7 -6.7M825.2 375.4h7.4M828.9 371.7v7.4M825.5 372.1l6.7 6.7M825.5 378.7l6.7 -6.7M835.8 368.4h7.4M839.5 364.7v7.4M836.2 365.0l6.7 6.7M836.2 371.7l6.7 -6.7M845.0 368.2h7.4M848.7 364.5v7.4M845.4 364.9l6.7 6.7M845.4 371.6l6.7 -6.7M851.6 374.9h7.4M855.3 371.2v7.4M852.0 371.5l6.7 6.7M852.0 378.2l6.7 -6.7M854.0 384.1h7.4M857.7 380.4v7.4M854.4 380.8l6.7 6.7M854.4 387.5l6.7 -6.7M856.1 394.2h7.4M859.8 390.5v7.4M856.4 390.9l6.7 6.7M856.4 397.5l6.7 -6.7M853.6 415.6h7.4M857.3 411.9v7.4M854.0 412.2l6.7 6.7M854.0 418.9l6.7 -6.7M851.2 382.2h7.4M854.9 378.5v7.4M851.6 378.9l6.7 6.7M851.6 385.5l6.7 -6.7M848.6 348.5h7.4M852.3 344.8v7.4M849.0 345.2l6.7 6.7M849.0 351.9l6.7 -6.7M846.0 329.3h7.4M849.7 325.6v7.4M846.3 325.9l6.7 6.7M846.3 332.6l6.7 -6.7M843.3 310.0h7.4M847.0 306.3v7.4M843.7 306.7l6.7 6.7M843.7 313.3l6.7 -6.7M838.7 298.0h7.4M842.4 294.3v7.4M839.0 294.6l6.7 6.7M839.0 301.3l6.7 -6.7M834.0 285.9h7.4M837.7 282.2v7.4M834.4 282.6l6.7 6.7M834.4 289.2l6.7 -6.7M832.0 272.3h7.4M835.7 268.6v7.4M832.3 269.0l6.7 6.7M832.3 275.7l6.7 -6.7M832.9 258.6h7.4M836.6 254.9v7.4M833.2 255.3l6.7 6.7M833.2 262.0l6.7 -6.7M837.0 227.9h7.4M840.7 224.2v7.4M837.3 224.5l6.7 6.7M837.3 231.2l6.7 -6.7M846.2 253.7h7.4M849.9 250.0v7.4M846.5 250.4l6.7 6.7M846.5 257.0l6.7 -6.7M858.8 243.0h7.4M862.5 239.3v7.4M859.2 239.7l6.7 6.7M859.2 246.3l6.7 -6.7M872.5 225.9h7.4M876.2 222.2v7.4M872.9 222.5l6.7 6.7M872.9 229.2l6.7 -6.7M884.1 195.0h7.4M887.8 191.3v7.4M884.5 191.6l6.7 6.7M884.5 198.3l6.7 -6.7M894.4 186.6h7.4M898.1 182.9v7.4M894.7 183.3l6.7 6.7M894.7 189.9l6.7 -6.7M899.7 186.5h7.4M903.4 182.8v7.4M900.1 183.2l6.7 6.7M900.1 189.8l6.7 -6.7" fill="none" stroke="#000" stroke-width="1.5"/>
<path d="M794.9 379.7h5.6v5.6h-5.6zM791.9 382.4h5.6v5.6h-5.6zM789.2 383.9h5.6v5.6h-5.6zM786.8 384.1h5.6v5.6h-5.6zM786.0 383.6h5.6v5.6h-5.6zM787.3 384.3h5.6v5.6h-5.6zM788.6 384.4h5.6v5.6h-5.6zM790.0 386.7h5.6v5.6h-5.6zM791.1 382.4h5.6v5.6h-5.6zM791.8 378.6h5.6v5.6h-5.6zM791.7 376.7h5.6v5.6h-5.6zM790.7 376.7h5.6v5.6h-5.6zM789.7 381.8h5.6v5.6h-5.6zM789.7 386.2h5.6v5.6h-5.6zM789.7 388.3h5.6v5.6h-5.6zM789.7 384.7h5.6v5.6h-5.6zM789.1 385.8h5.6v5.6h-5.6zM788.1 390.8h5.6v5.6h-5.6zM786.9 391.4h5.6v5.6h-5.6zM783.8 388.0h5.6v5.6h-5.6zM779.6 384.9h5.6v5.6h-5.6zM774.3 382.0h5.6v5.6h-5.6zM768.5 378.0h5.6v5.6h-5.6zM762.5 379.4h5.6v5.6h-5.6zM758.4 380.3h5.6v5.6h-5.6zM756.4 377.0h5.6v5.6h-5.6zM756.4 373.7h5.6v5.6h-5.6zM756.4 369.2h5.6v5.6h-5.6zM759.5 369.4h5.6v5.6h-5.6zM764.2 364.6h5.6v5.6h-5.6zM769.0 359.4h5.6v5.6h-5.6zM773.9 353.9h5.6v5.6h-5.6zM778.8 350.1h5.6v5.6h-5.6zM783.5 349.1h5.6v5.6h-5.6zM791.0 328.7h5.6v5.6h-5.6zM808.3 316.5h5.6v5.6h-5.6zM821.7 308.7h5.6v5.6h-5.6zM830.3 309.3h5.6v5.6h-5.6zM838.1 304.8h5.6v5.6h-5.6zM841.8 296.8h5.6v5.6h-5.6zM844.6 286.9h5.6v5.6h-5.6zM843.9 279.4h5.6v5.6h-5.6zM839.5 282.1h5.6v5.6h-5.6zM831.9 284.7h5.6v5.6h-5.6zM825.5 294.0h5.6v5.6h-5.6zM820.7 297.7h5.6v5.6h-5.6zM816.6 301.4h5.6v5.6h-5.6zM815.3 303.8h5.6v5.6h-5.6zM815.8 304.4h5.6v5.6h-5.6zM819.5 295.2h5.6v5.6h-5.6zM823.8 291.9h5.6v5.6h-5.6zM837.0 283.6h5.6v5.6h-5.6zM848.8 264.1h5.6v5.6h-5.6zM860.6 253.0h5.6v5.6h-5.6zM868.4 227.6h5.6v5.6h-5.6zM871.8 202.3h5.6v5.6h-5.6zM869.8 201.0h5.6v5.6h-5.6zM859.5 232.4h5.6v5.6h-5.6zM846.5 254.8h5.6v5.6h-5.6zM829.1 276.3h5.6v5.6h-5.6zM812.7 297.7h5.6v5.6h-5.6zM801.3 307.6h5.6v5.6h-5.6zM792.8 315.7h5.6v5.6h-5.6zM786.8 321.5h5.6v5.6h-5.6zM784.0 364.6h5.6v5.6h-5.6zM786.4 362.0h5.6v5.6h-5.6zM791.7 356.5h5.6v5.6h-5.6zM797.4 343.1h5.6v5.6h-5.6zM803.4 341.3h5.6v5.6h-5.6zM808.3 344.0h5.6v5.6h-5.6zM812.5 370.4h5.6v5.6h-5.6zM807.7 388.3h5.6v5.6h-5.6zM798.6 394.2h5.6v5.6h-5.6zM785.7 390.6h5.6v5.6h-5.6zM771.3 396.1h5.6v5.6h-5.6zM755.2 403.0h5.6v5.6h-5.6zM745.0 407.7h5.6v5.6h-5.6zM741.2 412.8h5.6v5.6h-5.6zM740.4 418.6h5.6v5.6h-5.6zM737.9 419.6h5.6v5.6h-5.6zM735.2 426.0h5.6v5.6h-5.6zM735.5 436.2h5.6v5.6h-5.6zM736.4 437.4h5.6v5.6h-5.6zM738.4 437.5h5.6v5.6h-5.6zM740.8 434.3h5.6v5.6h-5.6zM752.9 437.5h5.6v5.6h-5.6zM767.2 441.5h5.6v5.6h-5.6zM782.6 446.4h5.6v5.6h-5.6zM793.3 453.2h5.6v5.6h-5.6zM802.0 457.0h5.6v5.6h-5.6zM806.3 460.9h5.6v5.6h-5.6zM809.5 457.1h5.6v5.6h-5.6zM812.2 450.4h5.6v5.6h-5.6zM811.5 431.7h5.6v5.6h-5.6zM810.4 403.9h5.6v5.6h-5.6zM811.9 387.5h5.6v5.6h-5.6zM814.3 379.8h5.6v5.6h-5.6zM826.1 372.6h5.6v5.6h-5.6zM836.7 365.6h5.6v5.6h-5.6zM845.9 365.4h5.6v5.6h-5.6zM852.5 372.1h5.6v5.6h-5.6zM854.9 381.3h5.6v5.6h-5.6zM857.0 391.4h5.6v5.6h-5.6zM854.5 412.8h5.6v5.6h-5.6zM852.1 379.4h5.6v5.6h-5.6zM849.5 345.7h5.6v5.6h-5.6zM846.9 326.5h5.6v5.6h-5.6zM844.2 307.2h5.6v5.6h-5.6zM839.6 295.2h5.6v5.6h-5.6zM834.9 283.1h5.6v5.6h-5.6zM832.9 269.5h5.6v5.6h-5.6zM833.8 255.8h5.6v5.6h-5.6zM837.9 225.1h5.6v5.6h-5.6zM847.1 250.9h5.6v5.6h-5.6zM859.7 240.2h5.6v5.6h-5.6zM873.4 223.1h5.6v5.6h-5.6zM885.0 192.2h5.6v5.6h-5.6zM895.3 183.8h5.6v5.6h-5.6zM900.6 183.7h5.6v5.6h-5.6z" fill="#000"/>
<line x1="728.00" y1="492.00" x2="887.30" y2="211.50" stroke="#000" stroke-width="2.2" stroke-linecap="butt"/>
<path d="M1785.00 72.50H2204.10V492.30H1785.00ZM1889.78 492.30v-8.7M1889.78 72.50v8.7M1994.55 492.30v-8.7M1994.55 72.50v8.7M2099.32 492.30v-8.7M2099.32 72.50v8.7M1811.19 492.30v-4.3M1811.19 72.50v4.3M1837.39 492.30v-4.3M1837.39 72.50v4.3M1863.58 492.30v-4.3M1863.58 72.50v4.3M1915.97 492.30v-4.3M1915.97 72.50v4.3M1942.16 492.30v-4.3M1942.16 72.50v4.3M1968.36 492.30v-4.3M1968.36 72.50v4.3M2020.74 492.30v-4.3M2020.74 72.50v4.3M2046.94 492.30v-4.3M2046.94 72.50v4.3M2073.13 492.30v-4.3M2073.13 72.50v4.3M2125.52 492.30v-4.3M2125.52 72.50v4.3M2151.71 492.30v-4.3M2151.71 72.50v4.3M2177.91 492.30v-4.3M2177.91 72.50v4.3M1785.00 387.35h8.7M2204.10 387.35h-8.7M1785.00 282.40h8.7M2204.10 282.40h-8.7M1785.00 177.45h8.7M2204.10 177.45h-8.7M1785.00 466.06h4.3M2204.10 466.06h-4.3M1785.00 439.82h4.3M2204.10 439.82h-4.3M1785.00 413.59h4.3M2204.10 413.59h-4.3M1785.00 361.11h4.3M2204.10 361.11h-4.3M1785.00 334.88h4.3M2204.10 334.88h-4.3M1785.00 308.64h4.3M2204.10 308.64h-4.3M1785.00 256.16h4.3M2204.10 256.16h-4.3M1785.00 229.93h4.3M2204.10 229.93h-4.3M1785.00 203.69h4.3M2204.10 203.69h-4.3M1785.00 151.21h4.3M2204.10 151.21h-4.3M1785.00 124.98h4.3M2204.10 124.98h-4.3M1785.00 98.74h4.3M2204.10 98.74h-4.3" fill="none" stroke="#000" stroke-width="2.5" stroke-linejoin="miter"/>
<text transform="translate(1785.00,526.60) scale(0.8,1)" font-size="28.5" text-anchor="middle" stroke="#000" stroke-width="0.5">0</text>
<text transform="translate(1889.78,526.60) scale(0.8,1)" font-size="28.5" text-anchor="middle" stroke="#000" stroke-width="0.5">200</text>
<text transform="translate(1994.55,526.60) scale(0.8,1)" font-size="28.5" text-anchor="middle" stroke="#000" stroke-width="0.5">400</text>
<text transform="translate(2099.32,526.60) scale(0.8,1)" font-size="28.5" text-anchor="middle" stroke="#000" stroke-width="0.5">600</text>
<text transform="translate(2204.10,526.60) scale(0.8,1)" font-size="28.5" text-anchor="middle" stroke="#000" stroke-width="0.5">800</text>
<text transform="translate(1777.90,492.40) scale(0.8,1)" font-size="28.5" text-anchor="end" stroke="#000" stroke-width="0.5">0</text>
<text transform="translate(1777.90,397.10) scale(0.8,1)" font-size="28.5" text-anchor="end" stroke="#000" stroke-width="0.5">200</text>
<text transform="translate(1777.90,292.15) scale(0.8,1)" font-size="28.5" text-anchor="end" stroke="#000" stroke-width="0.5">400</text>
<text transform="translate(1777.90,187.20) scale(0.8,1)" font-size="28.5" text-anchor="end" stroke="#000" stroke-width="0.5">600</text>
<text transform="translate(1777.90,88.90) scale(0.8,1)" font-size="28.5" text-anchor="end" stroke="#000" stroke-width="0.5">800</text>
<text transform="translate(1903.50,44.10) scale(0.788,1)" font-size="28.5" text-anchor="start" stroke="#000" stroke-width="0.5">correlation 0.988</text>
<text transform="translate(1994.45,556.80) scale(0.8,1)" font-size="28.5" text-anchor="middle" stroke="#000" stroke-width="0.5">IPS Tomography V (km s<tspan dy="-13" font-size="12.0">-1</tspan><tspan dy="13">)</tspan></text>
<text transform="translate(1719.00,282.60) rotate(-90) scale(0.8,1)" font-size="28.5" text-anchor="middle" stroke="#000" stroke-width="0.5">ACE V (km s<tspan dy="-13" font-size="12.0">-1</tspan><tspan dy="13">)</tspan></text>
<path d="M2141.4 125.6h7.4M2145.1 121.9v7.4M2141.8 122.2l6.7 6.7M2141.8 128.9l6.7 -6.7M2139.0 127.8h7.4M2142.7 124.1v7.4M2139.4 124.4l6.7 6.7M2139.4 131.1l6.7 -6.7M2136.6 130.5h7.4M2140.3 126.8v7.4M2137.0 127.1l6.7 6.7M2137.0 133.8l6.7 -6.7M2133.2 134.0h7.4M2136.9 130.3v7.4M2133.5 130.6l6.7 6.7M2133.5 137.3l6.7 -6.7M2129.6 137.4h7.4M2133.3 133.7v7.4M2130.0 134.0l6.7 6.7M2130.0 140.7l6.7 -6.7M2124.8 139.0h7.4M2128.5 135.3v7.4M2125.2 135.6l6.7 6.7M2125.2 142.3l6.7 -6.7M2119.8 144.8h7.4M2123.5 141.1v7.4M2120.1 141.5l6.7 6.7M2120.1 148.2l6.7 -6.7M2114.5 154.1h7.4M2118.2 150.4v7.4M2114.9 150.8l6.7 6.7M2114.9 157.5l6.7 -6.7M2109.2 164.3h7.4M2112.9 160.6v7.4M2109.5 161.0l6.7 6.7M2109.5 167.6l6.7 -6.7M2103.8 173.0h7.4M2107.5 169.3v7.4M2104.2 169.7l6.7 6.7M2104.2 176.3l6.7 -6.7M2098.9 180.1h7.4M2102.6 176.4v7.4M2099.2 176.8l6.7 6.7M2099.2 183.4l6.7 -6.7M2094.0 183.6h7.4M2097.7 179.9v7.4M2094.3 180.3l6.7 6.7M2094.3 186.9l6.7 -6.7M2089.3 188.7h7.4M2093.0 185.0v7.4M2089.7 185.4l6.7 6.7M2089.7 192.0l6.7 -6.7M2085.9 193.8h7.4M2089.6 190.1v7.4M2086.3 190.4l6.7 6.7M2086.3 197.1l6.7 -6.7M2082.5 198.2h7.4M2086.2 194.5v7.4M2082.8 194.8l6.7 6.7M2082.8 201.5l6.7 -6.7M2079.0 202.5h7.4M2082.7 198.8v7.4M2079.4 199.2l6.7 6.7M2079.4 205.9l6.7 -6.7M2075.6 207.0h7.4M2079.3 203.3v7.4M2075.9 203.7l6.7 6.7M2075.9 210.3l6.7 -6.7M2072.1 211.6h7.4M2075.8 207.9v7.4M2072.5 208.2l6.7 6.7M2072.5 214.9l6.7 -6.7M2068.7 215.5h7.4M2072.4 211.8v7.4M2069.1 212.2l6.7 6.7M2069.1 218.8l6.7 -6.7M2065.3 216.8h7.4M2069.0 213.1v7.4M2065.7 213.5l6.7 6.7M2065.7 220.2l6.7 -6.7M2062.0 218.2h7.4M2065.7 214.5v7.4M2062.3 214.8l6.7 6.7M2062.3 221.5l6.7 -6.7M2058.6 220.5h7.4M2062.3 216.8v7.4M2059.0 217.1l6.7 6.7M2059.0 223.8l6.7 -6.7M2055.3 222.9h7.4M2059.0 219.2v7.4M2055.7 219.6l6.7 6.7M2055.7 226.2l6.7 -6.7M2052.3 224.9h7.4M2056.0 221.2v7.4M2052.7 221.6l6.7 6.7M2052.7 228.3l6.7 -6.7M2049.3 227.0h7.4M2053.0 223.3v7.4M2049.6 223.6l6.7 6.7M2049.6 230.3l6.7 -6.7M2046.3 229.9h7.4M2050.0 226.2v7.4M2046.6 226.6l6.7 6.7M2046.6 233.2l6.7 -6.7M2043.2 232.9h7.4M2046.9 229.2v7.4M2043.6 229.5l6.7 6.7M2043.6 236.2l6.7 -6.7M2040.1 235.3h7.4M2043.8 231.6v7.4M2040.5 232.0l6.7 6.7M2040.5 238.7l6.7 -6.7M2037.0 237.7h7.4M2040.7 234.0v7.4M2037.3 234.4l6.7 6.7M2037.3 241.1l6.7 -6.7M2034.7 240.3h7.4M2038.4 236.6v7.4M2035.1 237.0l6.7 6.7M2035.1 243.6l6.7 -6.7M2033.0 243.0h7.4M2036.7 239.3v7.4M2033.4 239.7l6.7 6.7M2033.4 246.3l6.7 -6.7M2031.4 245.7h7.4M2035.1 242.0v7.4M2031.7 242.3l6.7 6.7M2031.7 249.0l6.7 -6.7M2029.7 247.5h7.4M2033.4 243.8v7.4M2030.1 244.1l6.7 6.7M2030.1 250.8l6.7 -6.7M2027.9 247.8h7.4M2031.6 244.1v7.4M2028.3 244.5l6.7 6.7M2028.3 251.2l6.7 -6.7M2026.1 248.4h7.4M2029.8 244.7v7.4M2026.5 245.0l6.7 6.7M2026.5 251.7l6.7 -6.7M2024.3 250.9h7.4M2028.0 247.2v7.4M2024.7 247.5l6.7 6.7M2024.7 254.2l6.7 -6.7M2022.4 253.1h7.4M2026.1 249.4v7.4M2022.8 249.7l6.7 6.7M2022.8 256.4l6.7 -6.7M2020.5 255.1h7.4M2024.2 251.4v7.4M2020.9 251.7l6.7 6.7M2020.9 258.4l6.7 -6.7M2018.6 257.1h7.4M2022.3 253.4v7.4M2019.0 253.8l6.7 6.7M2019.0 260.4l6.7 -6.7M2015.3 259.3h7.4M2019.0 255.6v7.4M2015.7 256.0l6.7 6.7M2015.7 262.6l6.7 -6.7M2011.9 262.3h7.4M2015.6 258.6v7.4M2012.3 259.0l6.7 6.7M2012.3 265.6l6.7 -6.7M2008.2 266.8h7.4M2011.9 263.1v7.4M2008.6 263.4l6.7 6.7M2008.6 270.1l6.7 -6.7M2003.9 271.2h7.4M2007.6 267.5v7.4M2004.3 267.9l6.7 6.7M2004.3 274.6l6.7 -6.7M1999.9 274.7h7.4M2003.6 271.0v7.4M2000.3 271.4l6.7 6.7M2000.3 278.0l6.7 -6.7M1998.3 277.4h7.4M2002.0 273.7v7.4M1998.7 274.0l6.7 6.7M1998.7 280.7l6.7 -6.7M1996.8 279.9h7.4M2000.5 276.2v7.4M1997.1 276.6l6.7 6.7M1997.1 283.3l6.7 -6.7M1995.6 282.2h7.4M1999.3 278.5v7.4M1996.0 278.9l6.7 6.7M1996.0 285.5l6.7 -6.7M1995.2 284.1h7.4M1998.9 280.4v7.4M1995.5 280.8l6.7 6.7M1995.5 287.5l6.7 -6.7M1994.7 284.5h7.4M1998.4 280.8v7.4M1995.1 281.2l6.7 6.7M1995.1 287.9l6.7 -6.7M1994.3 283.8h7.4M1998.0 280.1v7.4M1994.7 280.5l6.7 6.7M1994.7 287.2l6.7 -6.7M1994.5 283.1h7.4M1998.2 279.4v7.4M1994.9 279.8l6.7 6.7M1994.9 286.5l6.7 -6.7M1995.1 282.4h7.4M1998.8 278.7v7.4M1995.5 279.1l6.7 6.7M1995.5 285.7l6.7 -6.7M1995.7 280.6h7.4M1999.4 276.9v7.4M1996.0 277.3l6.7 6.7M1996.0 283.9l6.7 -6.7M1997.9 278.8h7.4M2001.6 275.1v7.4M1998.3 275.5l6.7 6.7M1998.3 282.2l6.7 -6.7M2000.3 276.2h7.4M2004.0 272.5v7.4M2000.7 272.9l6.7 6.7M2000.7 279.5l6.7 -6.7M2003.0 273.5h7.4M2006.7 269.8v7.4M2003.4 270.2l6.7 6.7M2003.4 276.8l6.7 -6.7M2007.5 270.0h7.4M2011.2 266.3v7.4M2007.8 266.6l6.7 6.7M2007.8 273.3l6.7 -6.7M2011.9 265.9h7.4M2015.6 262.2v7.4M2012.3 262.6l6.7 6.7M2012.3 269.3l6.7 -6.7M2016.2 261.5h7.4M2019.9 257.8v7.4M2016.6 258.1l6.7 6.7M2016.6 264.8l6.7 -6.7M2020.3 256.1h7.4M2024.0 252.4v7.4M2020.6 252.8l6.7 6.7M2020.6 259.4l6.7 -6.7M2024.2 250.8h7.4M2027.9 247.1v7.4M2024.6 247.5l6.7 6.7M2024.6 254.2l6.7 -6.7M2026.5 248.1h7.4M2030.2 244.4v7.4M2026.9 244.8l6.7 6.7M2026.9 251.5l6.7 -6.7M2028.8 245.5h7.4M2032.5 241.8v7.4M2029.2 242.1l6.7 6.7M2029.2 248.8l6.7 -6.7M2031.1 243.5h7.4M2034.8 239.8v7.4M2031.5 240.1l6.7 6.7M2031.5 246.8l6.7 -6.7M2032.9 243.3h7.4M2036.6 239.6v7.4M2033.3 239.9l6.7 6.7M2033.3 246.6l6.7 -6.7M2034.6 242.2h7.4M2038.3 238.5v7.4M2034.9 238.9l6.7 6.7M2034.9 245.6l6.7 -6.7M2036.2 241.3h7.4M2039.9 237.6v7.4M2036.6 238.0l6.7 6.7M2036.6 244.6l6.7 -6.7M2037.9 240.6h7.4M2041.6 236.9v7.4M2038.3 237.3l6.7 6.7M2038.3 243.9l6.7 -6.7M2039.4 239.8h7.4M2043.1 236.1v7.4M2039.8 236.5l6.7 6.7M2039.8 243.2l6.7 -6.7M2040.9 238.8h7.4M2044.6 235.1v7.4M2041.3 235.4l6.7 6.7M2041.3 242.1l6.7 -6.7M2042.4 236.9h7.4M2046.1 233.2v7.4M2042.8 233.6l6.7 6.7M2042.8 240.2l6.7 -6.7M2044.5 230.8h7.4M2048.2 227.1v7.4M2044.8 227.5l6.7 6.7M2044.8 234.1l6.7 -6.7M2047.3 221.2h7.4M2051.0 217.5v7.4M2047.7 217.8l6.7 6.7M2047.7 224.5l6.7 -6.7M2050.0 211.7h7.4M2053.7 208.0v7.4M2050.4 208.4l6.7 6.7M2050.4 215.1l6.7 -6.7M2052.5 202.9h7.4M2056.2 199.2v7.4M2052.8 199.6l6.7 6.7M2052.8 206.2l6.7 -6.7M2054.9 201.0h7.4M2058.6 197.3v7.4M2055.3 197.7l6.7 6.7M2055.3 204.3l6.7 -6.7M2056.5 198.7h7.4M2060.2 195.0v7.4M2056.9 195.3l6.7 6.7M2056.9 202.0l6.7 -6.7M2057.3 194.8h7.4M2061.0 191.1v7.4M2057.7 191.4l6.7 6.7M2057.7 198.1l6.7 -6.7M2057.7 189.8h7.4M2061.4 186.1v7.4M2058.0 186.4l6.7 6.7M2058.0 193.1l6.7 -6.7M2056.6 189.5h7.4M2060.3 185.8v7.4M2057.0 186.1l6.7 6.7M2057.0 192.8l6.7 -6.7M2055.5 192.9h7.4M2059.2 189.2v7.4M2055.9 189.5l6.7 6.7M2055.9 196.2l6.7 -6.7M2050.5 200.1h7.4M2054.2 196.4v7.4M2050.8 196.8l6.7 6.7M2050.8 203.5l6.7 -6.7M2044.1 210.2h7.4M2047.8 206.5v7.4M2044.4 206.9l6.7 6.7M2044.4 213.5l6.7 -6.7M2035.4 220.3h7.4M2039.1 216.6v7.4M2035.7 217.0l6.7 6.7M2035.7 223.7l6.7 -6.7M2029.1 230.5h7.4M2032.8 226.8v7.4M2029.5 227.2l6.7 6.7M2029.5 233.8l6.7 -6.7M2025.7 240.6h7.4M2029.4 236.9v7.4M2026.0 237.3l6.7 6.7M2026.0 243.9l6.7 -6.7M2023.2 250.4h7.4M2026.9 246.7v7.4M2023.6 247.1l6.7 6.7M2023.6 253.7l6.7 -6.7M2020.8 253.8h7.4M2024.5 250.1v7.4M2021.1 250.5l6.7 6.7M2021.1 257.2l6.7 -6.7M2018.8 256.8h7.4M2022.5 253.1v7.4M2019.2 253.5l6.7 6.7M2019.2 260.1l6.7 -6.7M2017.9 258.7h7.4M2021.6 255.0v7.4M2018.3 255.4l6.7 6.7M2018.3 262.0l6.7 -6.7M2016.9 260.5h7.4M2020.6 256.8v7.4M2017.3 257.2l6.7 6.7M2017.3 263.8l6.7 -6.7M2016.0 259.9h7.4M2019.7 256.2v7.4M2016.3 256.5l6.7 6.7M2016.3 263.2l6.7 -6.7M2015.0 258.9h7.4M2018.7 255.2v7.4M2015.3 255.6l6.7 6.7M2015.3 262.3l6.7 -6.7M2014.0 258.8h7.4M2017.7 255.1v7.4M2014.3 255.5l6.7 6.7M2014.3 262.1l6.7 -6.7M2013.0 259.1h7.4M2016.7 255.4v7.4M2013.3 255.8l6.7 6.7M2013.3 262.5l6.7 -6.7M2011.4 260.3h7.4M2015.1 256.6v7.4M2011.8 256.9l6.7 6.7M2011.8 263.6l6.7 -6.7M2009.1 262.2h7.4M2012.8 258.5v7.4M2009.5 258.9l6.7 6.7M2009.5 265.5l6.7 -6.7M2006.8 265.0h7.4M2010.5 261.3v7.4M2007.2 261.7l6.7 6.7M2007.2 268.4l6.7 -6.7M2004.3 268.8h7.4M2008.0 265.1v7.4M2004.7 265.4l6.7 6.7M2004.7 272.1l6.7 -6.7M2001.3 272.5h7.4M2005.0 268.8v7.4M2001.7 269.2l6.7 6.7M2001.7 275.9l6.7 -6.7M1998.2 277.6h7.4M2001.9 273.9v7.4M1998.6 274.3l6.7 6.7M1998.6 280.9l6.7 -6.7M1995.2 283.0h7.4M1998.9 279.3v7.4M1995.5 279.6l6.7 6.7M1995.5 286.3l6.7 -6.7M1992.5 287.0h7.4M1996.2 283.3v7.4M1992.9 283.7l6.7 6.7M1992.9 290.4l6.7 -6.7M1989.8 289.9h7.4M1993.5 286.2v7.4M1990.2 286.6l6.7 6.7M1990.2 293.3l6.7 -6.7M1987.1 292.1h7.4M1990.8 288.4v7.4M1987.5 288.7l6.7 6.7M1987.5 295.4l6.7 -6.7M1984.5 294.5h7.4M1988.2 290.8v7.4M1984.9 291.2l6.7 6.7M1984.9 297.8l6.7 -6.7M1982.2 297.6h7.4M1985.9 293.9v7.4M1982.5 294.3l6.7 6.7M1982.5 301.0l6.7 -6.7M1979.8 300.2h7.4M1983.5 296.5v7.4M1980.2 296.9l6.7 6.7M1980.2 303.6l6.7 -6.7M1977.4 302.7h7.4M1981.1 299.0v7.4M1977.8 299.4l6.7 6.7M1977.8 306.0l6.7 -6.7M1975.1 303.9h7.4M1978.8 300.2v7.4M1975.5 300.5l6.7 6.7M1975.5 307.2l6.7 -6.7M1973.5 303.9h7.4M1977.2 300.2v7.4M1973.9 300.5l6.7 6.7M1973.9 307.2l6.7 -6.7M1971.9 307.0h7.4M1975.6 303.3v7.4M1972.3 303.7l6.7 6.7M1972.3 310.4l6.7 -6.7M1970.3 310.7h7.4M1974.0 307.0v7.4M1970.7 307.3l6.7 6.7M1970.7 314.0l6.7 -6.7M1969.6 313.3h7.4M1973.3 309.6v7.4M1969.9 310.0l6.7 6.7M1969.9 316.7l6.7 -6.7M1968.9 314.4h7.4M1972.6 310.7v7.4M1969.2 311.1l6.7 6.7M1969.2 317.7l6.7 -6.7M1968.2 314.6h7.4M1971.9 310.9v7.4M1968.6 311.3l6.7 6.7M1968.6 317.9l6.7 -6.7M1967.5 314.6h7.4M1971.2 310.9v7.4M1967.9 311.3l6.7 6.7M1967.9 317.9l6.7 -6.7M1966.7 314.6h7.4M1970.4 310.9v7.4M1967.1 311.3l6.7 6.7M1967.1 317.9l6.7 -6.7M1965.9 314.6h7.4M1969.6 310.9v7.4M1966.3 311.3l6.7 6.7M1966.3 317.9l6.7 -6.7" fill="none" stroke="#000" stroke-width="1.5"/>
<path d="M2142.3 122.8h5.6v5.6h-5.6zM2139.9 125.0h5.6v5.6h-5.6zM2137.5 127.7h5.6v5.6h-5.6zM2134.1 131.2h5.6v5.6h-5.6zM2130.5 134.6h5.6v5.6h-5.6zM2125.7 136.2h5.6v5.6h-5.6zM2120.7 142.0h5.6v5.6h-5.6zM2115.4 151.3h5.6v5.6h-5.6zM2110.1 161.5h5.6v5.6h-5.6zM2104.7 170.2h5.6v5.6h-5.6zM2099.8 177.3h5.6v5.6h-5.6zM2094.9 180.8h5.6v5.6h-5.6zM2090.2 185.9h5.6v5.6h-5.6zM2086.8 191.0h5.6v5.6h-5.6zM2083.4 195.4h5.6v5.6h-5.6zM2079.9 199.7h5.6v5.6h-5.6zM2076.5 204.2h5.6v5.6h-5.6zM2073.0 208.8h5.6v5.6h-5.6zM2069.6 212.7h5.6v5.6h-5.6zM2066.2 214.0h5.6v5.6h-5.6zM2062.9 215.4h5.6v5.6h-5.6zM2059.5 217.7h5.6v5.6h-5.6zM2056.2 220.1h5.6v5.6h-5.6zM2053.2 222.1h5.6v5.6h-5.6zM2050.2 224.2h5.6v5.6h-5.6zM2047.2 227.1h5.6v5.6h-5.6zM2044.1 230.1h5.6v5.6h-5.6zM2041.0 232.5h5.6v5.6h-5.6zM2037.9 234.9h5.6v5.6h-5.6zM2035.6 237.5h5.6v5.6h-5.6zM2033.9 240.2h5.6v5.6h-5.6zM2032.3 242.9h5.6v5.6h-5.6zM2030.6 244.7h5.6v5.6h-5.6zM2028.8 245.0h5.6v5.6h-5.6zM2027.0 245.6h5.6v5.6h-5.6zM2025.2 248.1h5.6v5.6h-5.6zM2023.3 250.3h5.6v5.6h-5.6zM2021.4 252.3h5.6v5.6h-5.6zM2019.5 254.3h5.6v5.6h-5.6zM2016.2 256.5h5.6v5.6h-5.6zM2012.8 259.5h5.6v5.6h-5.6zM2009.1 264.0h5.6v5.6h-5.6zM2004.8 268.4h5.6v5.6h-5.6zM2000.8 271.9h5.6v5.6h-5.6zM1999.2 274.6h5.6v5.6h-5.6zM1997.7 277.1h5.6v5.6h-5.6zM1996.5 279.4h5.6v5.6h-5.6zM1996.1 281.3h5.6v5.6h-5.6zM1995.6 281.7h5.6v5.6h-5.6zM1995.2 281.0h5.6v5.6h-5.6zM1995.4 280.3h5.6v5.6h-5.6zM1996.0 279.6h5.6v5.6h-5.6zM1996.6 277.8h5.6v5.6h-5.6zM1998.8 276.0h5.6v5.6h-5.6zM2001.2 273.4h5.6v5.6h-5.6zM2003.9 270.7h5.6v5.6h-5.6zM2008.4 267.2h5.6v5.6h-5.6zM2012.8 263.1h5.6v5.6h-5.6zM2017.1 258.7h5.6v5.6h-5.6zM2021.2 253.3h5.6v5.6h-5.6zM2025.1 248.0h5.6v5.6h-5.6zM2027.4 245.3h5.6v5.6h-5.6zM2029.7 242.7h5.6v5.6h-5.6zM2032.0 240.7h5.6v5.6h-5.6zM2033.8 240.5h5.6v5.6h-5.6zM2035.5 239.4h5.6v5.6h-5.6zM2037.1 238.5h5.6v5.6h-5.6zM2038.8 237.8h5.6v5.6h-5.6zM2040.3 237.0h5.6v5.6h-5.6zM2041.8 236.0h5.6v5.6h-5.6zM2043.3 234.1h5.6v5.6h-5.6zM2045.4 228.0h5.6v5.6h-5.6zM2048.2 218.4h5.6v5.6h-5.6zM2050.9 208.9h5.6v5.6h-5.6zM2053.4 200.1h5.6v5.6h-5.6zM2055.8 198.2h5.6v5.6h-5.6zM2057.4 195.9h5.6v5.6h-5.6zM2058.2 192.0h5.6v5.6h-5.6zM2058.6 187.0h5.6v5.6h-5.6zM2057.5 186.7h5.6v5.6h-5.6zM2056.4 190.1h5.6v5.6h-5.6zM2051.4 197.3h5.6v5.6h-5.6zM2045.0 207.4h5.6v5.6h-5.6zM2036.3 217.5h5.6v5.6h-5.6zM2030.0 227.7h5.6v5.6h-5.6zM2026.6 237.8h5.6v5.6h-5.6zM2024.1 247.6h5.6v5.6h-5.6zM2021.7 251.0h5.6v5.6h-5.6zM2019.7 254.0h5.6v5.6h-5.6zM2018.8 255.9h5.6v5.6h-5.6zM2017.8 257.7h5.6v5.6h-5.6zM2016.9 257.1h5.6v5.6h-5.6zM2015.9 256.1h5.6v5.6h-5.6zM2014.9 256.0h5.6v5.6h-5.6zM2013.9 256.3h5.6v5.6h-5.6zM2012.3 257.5h5.6v5.6h-5.6zM2010.0 259.4h5.6v5.6h-5.6zM2007.7 262.2h5.6v5.6h-5.6zM2005.2 266.0h5.6v5.6h-5.6zM2002.2 269.7h5.6v5.6h-5.6zM1999.1 274.8h5.6v5.6h-5.6zM1996.1 280.2h5.6v5.6h-5.6zM1993.4 284.2h5.6v5.6h-5.6zM1990.7 287.1h5.6v5.6h-5.6zM1988.0 289.3h5.6v5.6h-5.6zM1985.4 291.7h5.6v5.6h-5.6zM1983.1 294.8h5.6v5.6h-5.6zM1980.7 297.4h5.6v5.6h-5.6zM1978.3 299.9h5.6v5.6h-5.6zM1976.0 301.1h5.6v5.6h-5.6zM1974.4 301.1h5.6v5.6h-5.6zM1972.8 304.2h5.6v5.6h-5.6zM1971.2 307.9h5.6v5.6h-5.6zM1970.5 310.5h5.6v5.6h-5.6zM1969.8 311.6h5.6v5.6h-5.6zM1969.1 311.8h5.6v5.6h-5.6zM1968.4 311.8h5.6v5.6h-5.6zM1967.6 311.8h5.6v5.6h-5.6zM1966.8 311.8h5.6v5.6h-5.6z" fill="#000"/>
<line x1="1945.50" y1="339.00" x2="2117.00" y2="157.00" stroke="#000" stroke-width="2.2" stroke-linecap="butt"/>
<path d="M652.40 638.70H1071.50V1058.50H652.40ZM757.17 1058.50v-8.7M757.17 638.70v8.7M861.95 1058.50v-8.7M861.95 638.70v8.7M966.73 1058.50v-8.7M966.73 638.70v8.7M678.59 1058.50v-4.3M678.59 638.70v4.3M704.79 1058.50v-4.3M704.79 638.70v4.3M730.98 1058.50v-4.3M730.98 638.70v4.3M783.37 1058.50v-4.3M783.37 638.70v4.3M809.56 1058.50v-4.3M809.56 638.70v4.3M835.76 1058.50v-4.3M835.76 638.70v4.3M888.14 1058.50v-4.3M888.14 638.70v4.3M914.34 1058.50v-4.3M914.34 638.70v4.3M940.53 1058.50v-4.3M940.53 638.70v4.3M992.92 1058.50v-4.3M992.92 638.70v4.3M1019.11 1058.50v-4.3M1019.11 638.70v4.3M1045.31 1058.50v-4.3M1045.31 638.70v4.3M652.40 953.55h8.7M1071.50 953.55h-8.7M652.40 848.60h8.7M1071.50 848.60h-8.7M652.40 743.65h8.7M1071.50 743.65h-8.7M652.40 1032.26h4.3M1071.50 1032.26h-4.3M652.40 1006.02h4.3M1071.50 1006.02h-4.3M652.40 979.79h4.3M1071.50 979.79h-4.3M652.40 927.31h4.3M1071.50 927.31h-4.3M652.40 901.08h4.3M1071.50 901.08h-4.3M652.40 874.84h4.3M1071.50 874.84h-4.3M652.40 822.36h4.3M1071.50 822.36h-4.3M652.40 796.12h4.3M1071.50 796.12h-4.3M652.40 769.89h4.3M1071.50 769.89h-4.3M652.40 717.41h4.3M1071.50 717.41h-4.3M652.40 691.17h4.3M1071.50 691.17h-4.3M652.40 664.94h4.3M1071.50 664.94h-4.3" fill="none" stroke="#000" stroke-width="2.5" stroke-linejoin="miter"/>
<text transform="translate(652.40,1092.80) scale(0.8,1)" font-size="28.5" text-anchor="middle" stroke="#000" stroke-width="0.5">-4</text>
<text transform="translate(757.17,1092.80) scale(0.8,1)" font-size="28.5" text-anchor="middle" stroke="#000" stroke-width="0.5">-2</text>
<text transform="translate(861.95,1092.80) scale(0.8,1)" font-size="28.5" text-anchor="middle" stroke="#000" stroke-width="0.5">0</text>
<text transform="translate(966.73,1092.80) scale(0.8,1)" font-size="28.5" text-anchor="middle" stroke="#000" stroke-width="0.5">2</text>
<text transform="translate(1071.50,1092.80) scale(0.8,1)" font-size="28.5" text-anchor="middle" stroke="#000" stroke-width="0.5">4</text>
<text transform="translate(645.30,1058.60) scale(0.8,1)" font-size="28.5" text-anchor="end" stroke="#000" stroke-width="0.5">-4</text>
<text transform="translate(645.30,963.30) scale(0.8,1)" font-size="28.5" text-anchor="end" stroke="#000" stroke-width="0.5">-2</text>
<text transform="translate(645.30,858.35) scale(0.8,1)" font-size="28.5" text-anchor="end" stroke="#000" stroke-width="0.5">0</text>
<text transform="translate(645.30,753.40) scale(0.8,1)" font-size="28.5" text-anchor="end" stroke="#000" stroke-width="0.5">2</text>
<text transform="translate(645.30,655.10) scale(0.8,1)" font-size="28.5" text-anchor="end" stroke="#000" stroke-width="0.5">4</text>
<text transform="translate(770.60,610.30) scale(0.788,1)" font-size="28.5" text-anchor="start" stroke="#000" stroke-width="0.5">correlation -0.065</text>
<text transform="translate(861.85,1123.00) scale(0.8,1)" font-size="28.5" text-anchor="middle" stroke="#000" stroke-width="0.5">IPS Tomography B<tspan dy="7" font-size="16.5">z</tspan><tspan dy="-7"> </tspan>(nT)</text>
<text transform="translate(602.50,848.80) rotate(-90) scale(0.8,1)" font-size="28.5" text-anchor="middle" stroke="#000" stroke-width="0.5">ACE B<tspan dy="7" font-size="16.5">z</tspan><tspan dy="-7"> </tspan>(nT)</text>
<path d="M842.8 888.0h7.4M846.5 884.3v7.4M843.1 884.7l6.7 6.7M843.1 891.3l6.7 -6.7M838.9 892.2h7.4M842.6 888.5v7.4M839.2 888.9l6.7 6.7M839.2 895.6l6.7 -6.7M834.9 887.3h7.4M838.6 883.6v7.4M835.3 884.0l6.7 6.7M835.3 890.6l6.7 -6.7M834.9 885.2h7.4M838.6 881.5v7.4M835.3 881.9l6.7 6.7M835.3 888.6l6.7 -6.7M835.8 882.1h7.4M839.5 878.4v7.4M836.2 878.8l6.7 6.7M836.2 885.5l6.7 -6.7M838.9 883.9h7.4M842.6 880.2v7.4M839.3 880.5l6.7 6.7M839.3 887.2l6.7 -6.7M842.4 884.4h7.4M846.1 880.7v7.4M842.8 881.1l6.7 6.7M842.8 887.8l6.7 -6.7M843.5 877.7h7.4M847.2 874.0v7.4M843.9 874.3l6.7 6.7M843.9 881.0l6.7 -6.7M842.0 876.3h7.4M845.7 872.6v7.4M842.4 873.0l6.7 6.7M842.4 879.6l6.7 -6.7M838.0 880.3h7.4M841.7 876.6v7.4M838.4 877.0l6.7 6.7M838.4 883.6l6.7 -6.7M833.1 881.8h7.4M836.8 878.1v7.4M833.5 878.5l6.7 6.7M833.5 885.1l6.7 -6.7M833.3 882.7h7.4M837.0 879.0v7.4M833.6 879.3l6.7 6.7M833.6 886.0l6.7 -6.7M835.0 884.9h7.4M838.7 881.2v7.4M835.4 881.6l6.7 6.7M835.4 888.2l6.7 -6.7M838.7 885.3h7.4M842.4 881.6v7.4M839.0 882.0l6.7 6.7M839.0 888.7l6.7 -6.7M842.8 882.1h7.4M846.5 878.4v7.4M843.1 878.7l6.7 6.7M843.1 885.4l6.7 -6.7M843.1 887.6h7.4M846.8 883.9v7.4M843.5 884.3l6.7 6.7M843.5 891.0l6.7 -6.7M841.0 891.4h7.4M844.7 887.7v7.4M841.4 888.0l6.7 6.7M841.4 894.7l6.7 -6.7M836.3 897.6h7.4M840.0 893.9v7.4M836.7 894.3l6.7 6.7M836.7 901.0l6.7 -6.7M832.4 902.9h7.4M836.1 899.2v7.4M832.8 899.6l6.7 6.7M832.8 906.2l6.7 -6.7M833.1 903.7h7.4M836.8 900.0v7.4M833.5 900.4l6.7 6.7M833.5 907.0l6.7 -6.7M835.3 896.9h7.4M839.0 893.2v7.4M835.6 893.5l6.7 6.7M835.6 900.2l6.7 -6.7M839.5 898.4h7.4M843.2 894.7v7.4M839.9 895.1l6.7 6.7M839.9 901.8l6.7 -6.7M842.7 897.3h7.4M846.4 893.6v7.4M843.1 893.9l6.7 6.7M843.1 900.6l6.7 -6.7M842.6 890.6h7.4M846.3 886.9v7.4M842.9 887.3l6.7 6.7M842.9 894.0l6.7 -6.7M839.8 890.4h7.4M843.5 886.7v7.4M840.2 887.1l6.7 6.7M840.2 893.7l6.7 -6.7M836.1 891.6h7.4M839.8 887.9v7.4M836.5 888.3l6.7 6.7M836.5 895.0l6.7 -6.7M835.6 889.4h7.4M839.3 885.7v7.4M836.0 886.0l6.7 6.7M836.0 892.7l6.7 -6.7M838.0 886.8h7.4M841.7 883.1v7.4M838.4 883.4l6.7 6.7M838.4 890.1l6.7 -6.7M843.0 892.3h7.4M846.7 888.6v7.4M843.4 889.0l6.7 6.7M843.4 895.6l6.7 -6.7M848.5 890.0h7.4M852.2 886.3v7.4M848.8 886.7l6.7 6.7M848.8 893.4l6.7 -6.7M850.3 879.2h7.4M854.0 875.5v7.4M850.7 875.9l6.7 6.7M850.7 882.5l6.7 -6.7M851.6 871.7h7.4M855.3 868.0v7.4M852.0 868.4l6.7 6.7M852.0 875.1l6.7 -6.7M847.5 862.1h7.4M851.2 858.4v7.4M847.9 858.8l6.7 6.7M847.9 865.4l6.7 -6.7M843.7 853.0h7.4M847.4 849.3v7.4M844.1 849.7l6.7 6.7M844.1 856.3l6.7 -6.7M841.5 847.4h7.4M845.2 843.7v7.4M841.8 844.0l6.7 6.7M841.8 850.7l6.7 -6.7M840.3 845.5h7.4M844.0 841.8v7.4M840.7 842.2l6.7 6.7M840.7 848.9l6.7 -6.7M843.7 834.8h7.4M847.4 831.1v7.4M844.1 831.5l6.7 6.7M844.1 838.1l6.7 -6.7M847.0 832.2h7.4M850.7 828.5v7.4M847.4 828.9l6.7 6.7M847.4 835.5l6.7 -6.7M847.7 834.5h7.4M851.4 830.8v7.4M848.1 831.2l6.7 6.7M848.1 837.9l6.7 -6.7M847.5 832.4h7.4M851.2 828.7v7.4M847.9 829.0l6.7 6.7M847.9 835.7l6.7 -6.7M844.7 830.0h7.4M848.4 826.3v7.4M845.1 826.7l6.7 6.7M845.1 833.3l6.7 -6.7M842.8 823.5h7.4M846.5 819.8v7.4M843.1 820.2l6.7 6.7M843.1 826.9l6.7 -6.7M848.8 809.2h7.4M852.5 805.5v7.4M849.2 805.8l6.7 6.7M849.2 812.5l6.7 -6.7M855.9 809.3h7.4M859.6 805.6v7.4M856.3 805.9l6.7 6.7M856.3 812.6l6.7 -6.7M863.8 816.0h7.4M867.5 812.3v7.4M864.2 812.7l6.7 6.7M864.2 819.4l6.7 -6.7M868.6 820.6h7.4M872.3 816.9v7.4M868.9 817.3l6.7 6.7M868.9 824.0l6.7 -6.7M862.3 823.4h7.4M866.0 819.7v7.4M862.6 820.1l6.7 6.7M862.6 826.7l6.7 -6.7M854.4 829.1h7.4M858.1 825.4v7.4M854.8 825.8l6.7 6.7M854.8 832.5l6.7 -6.7M850.4 828.0h7.4M854.1 824.3v7.4M850.8 824.7l6.7 6.7M850.8 831.4l6.7 -6.7M854.5 830.3h7.4M858.2 826.6v7.4M854.8 827.0l6.7 6.7M854.8 833.6l6.7 -6.7M862.3 830.7h7.4M866.0 827.0v7.4M862.6 827.3l6.7 6.7M862.6 834.0l6.7 -6.7M869.3 834.6h7.4M873.0 830.9v7.4M869.6 831.2l6.7 6.7M869.6 837.9l6.7 -6.7M872.9 831.2h7.4M876.6 827.5v7.4M873.3 827.8l6.7 6.7M873.3 834.5l6.7 -6.7M869.7 833.8h7.4M873.4 830.1v7.4M870.0 830.4l6.7 6.7M870.0 837.1l6.7 -6.7M865.4 846.0h7.4M869.1 842.3v7.4M865.7 842.7l6.7 6.7M865.7 849.3l6.7 -6.7M863.8 857.9h7.4M867.5 854.2v7.4M864.2 854.5l6.7 6.7M864.2 861.2l6.7 -6.7M867.1 872.9h7.4M870.8 869.2v7.4M867.5 869.6l6.7 6.7M867.5 876.2l6.7 -6.7M871.6 875.9h7.4M875.3 872.2v7.4M872.0 872.5l6.7 6.7M872.0 879.2l6.7 -6.7M876.4 886.6h7.4M880.1 882.9v7.4M876.7 883.2l6.7 6.7M876.7 889.9l6.7 -6.7M873.0 892.3h7.4M876.7 888.6v7.4M873.4 888.9l6.7 6.7M873.4 895.6l6.7 -6.7M868.4 913.0h7.4M872.1 909.3v7.4M868.8 909.7l6.7 6.7M868.8 916.3l6.7 -6.7M863.1 915.6h7.4M866.8 911.9v7.4M863.5 912.2l6.7 6.7M863.5 918.9l6.7 -6.7M860.4 913.5h7.4M864.1 909.8v7.4M860.7 910.2l6.7 6.7M860.7 916.9l6.7 -6.7M858.9 903.6h7.4M862.6 899.9v7.4M859.3 900.2l6.7 6.7M859.3 906.9l6.7 -6.7M863.7 899.1h7.4M867.4 895.4v7.4M864.1 895.7l6.7 6.7M864.1 902.4l6.7 -6.7M868.4 900.7h7.4M872.1 897.0v7.4M868.8 897.4l6.7 6.7M868.8 904.0l6.7 -6.7M870.2 901.6h7.4M873.9 897.9v7.4M870.6 898.2l6.7 6.7M870.6 904.9l6.7 -6.7M869.0 893.3h7.4M872.7 889.6v7.4M869.3 890.0l6.7 6.7M869.3 896.7l6.7 -6.7M864.0 883.7h7.4M867.7 880.0v7.4M864.4 880.4l6.7 6.7M864.4 887.0l6.7 -6.7M859.7 882.2h7.4M863.4 878.5v7.4M860.0 878.9l6.7 6.7M860.0 885.5l6.7 -6.7M856.4 887.1h7.4M860.1 883.4v7.4M856.8 883.8l6.7 6.7M856.8 890.4l6.7 -6.7M856.6 891.2h7.4M860.3 887.5v7.4M856.9 887.9l6.7 6.7M856.9 894.6l6.7 -6.7M861.0 904.9h7.4M864.7 901.2v7.4M861.4 901.5l6.7 6.7M861.4 908.2l6.7 -6.7M866.5 917.6h7.4M870.2 913.9v7.4M866.9 914.3l6.7 6.7M866.9 920.9l6.7 -6.7M867.7 923.7h7.4M871.4 920.0v7.4M868.1 920.4l6.7 6.7M868.1 927.0l6.7 -6.7M868.0 931.2h7.4M871.7 927.5v7.4M868.4 927.8l6.7 6.7M868.4 934.5l6.7 -6.7M862.8 932.5h7.4M866.5 928.8v7.4M863.2 929.2l6.7 6.7M863.2 935.9l6.7 -6.7M857.2 936.1h7.4M860.9 932.4v7.4M857.6 932.8l6.7 6.7M857.6 939.4l6.7 -6.7M854.4 935.7h7.4M858.1 932.0v7.4M854.7 932.4l6.7 6.7M854.7 939.1l6.7 -6.7M854.5 939.8h7.4M858.2 936.1v7.4M854.9 936.5l6.7 6.7M854.9 943.2l6.7 -6.7M859.1 942.8h7.4M862.8 939.1v7.4M859.5 939.5l6.7 6.7M859.5 946.2l6.7 -6.7M862.8 945.6h7.4M866.5 941.9v7.4M863.1 942.2l6.7 6.7M863.1 948.9l6.7 -6.7M866.0 946.1h7.4M869.7 942.4v7.4M866.3 942.8l6.7 6.7M866.3 949.4l6.7 -6.7M865.4 938.1h7.4M869.1 934.4v7.4M865.7 934.8l6.7 6.7M865.7 941.4l6.7 -6.7M860.9 926.0h7.4M864.6 922.3v7.4M861.3 922.7l6.7 6.7M861.3 929.4l6.7 -6.7M855.5 918.4h7.4M859.2 914.7v7.4M855.9 915.1l6.7 6.7M855.9 921.8l6.7 -6.7M852.6 916.6h7.4M856.3 912.9v7.4M853.0 913.3l6.7 6.7M853.0 919.9l6.7 -6.7M852.4 921.5h7.4M856.1 917.8v7.4M852.7 918.2l6.7 6.7M852.7 924.9l6.7 -6.7M856.8 923.7h7.4M860.5 920.0v7.4M857.2 920.3l6.7 6.7M857.2 927.0l6.7 -6.7M859.7 914.3h7.4M863.4 910.6v7.4M860.0 911.0l6.7 6.7M860.0 917.7l6.7 -6.7M861.4 911.9h7.4M865.1 908.2v7.4M861.7 908.6l6.7 6.7M861.7 915.3l6.7 -6.7M855.2 913.1h7.4M858.9 909.4v7.4M855.6 909.8l6.7 6.7M855.6 916.4l6.7 -6.7M851.0 920.6h7.4M854.7 916.9v7.4M851.4 917.3l6.7 6.7M851.4 923.9l6.7 -6.7M848.9 930.7h7.4M852.6 927.0v7.4M849.2 927.4l6.7 6.7M849.2 934.1l6.7 -6.7M850.9 928.9h7.4M854.6 925.2v7.4M851.3 925.6l6.7 6.7M851.3 932.3l6.7 -6.7M858.3 920.7h7.4M862.0 917.0v7.4M858.7 917.4l6.7 6.7M858.7 924.1l6.7 -6.7M865.8 913.5h7.4M869.5 909.8v7.4M866.2 910.2l6.7 6.7M866.2 916.9l6.7 -6.7M866.6 899.9h7.4M870.3 896.2v7.4M867.0 896.6l6.7 6.7M867.0 903.2l6.7 -6.7M862.9 882.6h7.4M866.6 878.9v7.4M863.3 879.2l6.7 6.7M863.3 885.9l6.7 -6.7M858.0 870.1h7.4M861.7 866.4v7.4M858.4 866.8l6.7 6.7M858.4 873.4l6.7 -6.7M856.7 863.4h7.4M860.4 859.7v7.4M857.1 860.0l6.7 6.7M857.1 866.7l6.7 -6.7M855.9 856.9h7.4M859.6 853.2v7.4M856.3 853.5l6.7 6.7M856.3 860.2l6.7 -6.7M856.6 846.6h7.4M860.3 842.9v7.4M857.0 843.2l6.7 6.7M857.0 849.9l6.7 -6.7M856.4 832.5h7.4M860.1 828.8v7.4M856.8 829.1l6.7 6.7M856.8 835.8l6.7 -6.7M855.3 816.5h7.4M859.0 812.8v7.4M855.7 813.2l6.7 6.7M855.7 819.8l6.7 -6.7M854.8 805.1h7.4M858.5 801.4v7.4M855.1 801.8l6.7 6.7M855.1 808.4l6.7 -6.7M855.6 793.0h7.4M859.3 789.3v7.4M856.0 789.7l6.7 6.7M856.0 796.3l6.7 -6.7" fill="none" stroke="#000" stroke-width="1.5"/>
<path d="M843.7 885.2h5.6v5.6h-5.6zM839.8 889.4h5.6v5.6h-5.6zM835.8 884.5h5.6v5.6h-5.6zM835.8 882.4h5.6v5.6h-5.6zM836.7 879.3h5.6v5.6h-5.6zM839.8 881.1h5.6v5.6h-5.6zM843.3 881.6h5.6v5.6h-5.6zM844.4 874.9h5.6v5.6h-5.6zM842.9 873.5h5.6v5.6h-5.6zM838.9 877.5h5.6v5.6h-5.6zM834.0 879.0h5.6v5.6h-5.6zM834.2 879.9h5.6v5.6h-5.6zM835.9 882.1h5.6v5.6h-5.6zM839.6 882.5h5.6v5.6h-5.6zM843.7 879.3h5.6v5.6h-5.6zM844.0 884.8h5.6v5.6h-5.6zM841.9 888.6h5.6v5.6h-5.6zM837.2 894.8h5.6v5.6h-5.6zM833.3 900.1h5.6v5.6h-5.6zM834.0 900.9h5.6v5.6h-5.6zM836.2 894.1h5.6v5.6h-5.6zM840.4 895.6h5.6v5.6h-5.6zM843.6 894.5h5.6v5.6h-5.6zM843.5 887.8h5.6v5.6h-5.6zM840.7 887.6h5.6v5.6h-5.6zM837.0 888.8h5.6v5.6h-5.6zM836.5 886.6h5.6v5.6h-5.6zM838.9 884.0h5.6v5.6h-5.6zM843.9 889.5h5.6v5.6h-5.6zM849.4 887.2h5.6v5.6h-5.6zM851.2 876.4h5.6v5.6h-5.6zM852.5 868.9h5.6v5.6h-5.6zM848.4 859.3h5.6v5.6h-5.6zM844.6 850.2h5.6v5.6h-5.6zM842.4 844.6h5.6v5.6h-5.6zM841.2 842.7h5.6v5.6h-5.6zM844.6 832.0h5.6v5.6h-5.6zM847.9 829.4h5.6v5.6h-5.6zM848.6 831.7h5.6v5.6h-5.6zM848.4 829.6h5.6v5.6h-5.6zM845.6 827.2h5.6v5.6h-5.6zM843.7 820.7h5.6v5.6h-5.6zM849.7 806.4h5.6v5.6h-5.6zM856.8 806.5h5.6v5.6h-5.6zM864.7 813.2h5.6v5.6h-5.6zM869.5 817.8h5.6v5.6h-5.6zM863.2 820.6h5.6v5.6h-5.6zM855.3 826.3h5.6v5.6h-5.6zM851.3 825.2h5.6v5.6h-5.6zM855.4 827.5h5.6v5.6h-5.6zM863.2 827.9h5.6v5.6h-5.6zM870.2 831.8h5.6v5.6h-5.6zM873.8 828.4h5.6v5.6h-5.6zM870.6 831.0h5.6v5.6h-5.6zM866.3 843.2h5.6v5.6h-5.6zM864.7 855.1h5.6v5.6h-5.6zM868.0 870.1h5.6v5.6h-5.6zM872.5 873.1h5.6v5.6h-5.6zM877.3 883.8h5.6v5.6h-5.6zM873.9 889.5h5.6v5.6h-5.6zM869.3 910.2h5.6v5.6h-5.6zM864.0 912.8h5.6v5.6h-5.6zM861.3 910.7h5.6v5.6h-5.6zM859.8 900.8h5.6v5.6h-5.6zM864.6 896.3h5.6v5.6h-5.6zM869.3 897.9h5.6v5.6h-5.6zM871.1 898.8h5.6v5.6h-5.6zM869.9 890.5h5.6v5.6h-5.6zM864.9 880.9h5.6v5.6h-5.6zM860.6 879.4h5.6v5.6h-5.6zM857.3 884.3h5.6v5.6h-5.6zM857.5 888.4h5.6v5.6h-5.6zM861.9 902.1h5.6v5.6h-5.6zM867.4 914.8h5.6v5.6h-5.6zM868.6 920.9h5.6v5.6h-5.6zM868.9 928.4h5.6v5.6h-5.6zM863.7 929.7h5.6v5.6h-5.6zM858.1 933.3h5.6v5.6h-5.6zM855.3 932.9h5.6v5.6h-5.6zM855.4 937.0h5.6v5.6h-5.6zM860.0 940.0h5.6v5.6h-5.6zM863.7 942.8h5.6v5.6h-5.6zM866.9 943.3h5.6v5.6h-5.6zM866.3 935.3h5.6v5.6h-5.6zM861.8 923.2h5.6v5.6h-5.6zM856.4 915.6h5.6v5.6h-5.6zM853.5 913.8h5.6v5.6h-5.6zM853.3 918.7h5.6v5.6h-5.6zM857.7 920.9h5.6v5.6h-5.6zM860.6 911.5h5.6v5.6h-5.6zM862.3 909.1h5.6v5.6h-5.6zM856.1 910.3h5.6v5.6h-5.6zM851.9 917.8h5.6v5.6h-5.6zM849.8 927.9h5.6v5.6h-5.6zM851.8 926.1h5.6v5.6h-5.6zM859.2 917.9h5.6v5.6h-5.6zM866.7 910.7h5.6v5.6h-5.6zM867.5 897.1h5.6v5.6h-5.6zM863.8 879.8h5.6v5.6h-5.6zM858.9 867.3h5.6v5.6h-5.6zM857.6 860.6h5.6v5.6h-5.6zM856.8 854.1h5.6v5.6h-5.6zM857.5 843.8h5.6v5.6h-5.6zM857.3 829.7h5.6v5.6h-5.6zM856.2 813.7h5.6v5.6h-5.6zM855.7 802.3h5.6v5.6h-5.6zM856.5 790.2h5.6v5.6h-5.6z" fill="#000"/>
<line x1="831.00" y1="806.50" x2="880.50" y2="958.00" stroke="#000" stroke-width="2.2" stroke-linecap="butt"/>
</g>
<path d="M1246.50 622.30H1669.30V1047.50H1246.50Z" fill="none" stroke="#000" stroke-width="3.3" stroke-linejoin="miter"/>
<path d="M1333.80 1047.50v-12.3M1333.80 622.30v12.3M1424.00 1047.50v-12.3M1424.00 622.30v12.3M1514.20 1047.50v-12.3M1514.20 622.30v12.3M1604.40 1047.50v-12.3M1604.40 622.30v12.3M1266.15 1047.50v-5.0M1266.15 622.30v5.0M1288.70 1047.50v-5.0M1288.70 622.30v5.0M1311.25 1047.50v-5.0M1311.25 622.30v5.0M1356.35 1047.50v-5.0M1356.35 622.30v5.0M1378.90 1047.50v-5.0M1378.90 622.30v5.0M1401.45 1047.50v-5.0M1401.45 622.30v5.0M1446.55 1047.50v-5.0M1446.55 622.30v5.0M1469.10 1047.50v-5.0M1469.10 622.30v5.0M1491.65 1047.50v-5.0M1491.65 622.30v5.0M1536.75 1047.50v-5.0M1536.75 622.30v5.0M1559.30 1047.50v-5.0M1559.30 622.30v5.0M1581.85 1047.50v-5.0M1581.85 622.30v5.0M1626.95 1047.50v-5.0M1626.95 622.30v5.0M1649.50 1047.50v-5.0M1649.50 622.30v5.0M1246.50 962.46h12.3M1669.30 962.46h-12.3M1246.50 877.42h12.3M1669.30 877.42h-12.3M1246.50 792.38h12.3M1669.30 792.38h-12.3M1246.50 707.34h12.3M1669.30 707.34h-12.3M1246.50 1026.24h5.0M1669.30 1026.24h-5.0M1246.50 1004.98h5.0M1669.30 1004.98h-5.0M1246.50 983.72h5.0M1669.30 983.72h-5.0M1246.50 941.20h5.0M1669.30 941.20h-5.0M1246.50 919.94h5.0M1669.30 919.94h-5.0M1246.50 898.68h5.0M1669.30 898.68h-5.0M1246.50 856.16h5.0M1669.30 856.16h-5.0M1246.50 834.90h5.0M1669.30 834.90h-5.0M1246.50 813.64h5.0M1669.30 813.64h-5.0M1246.50 771.12h5.0M1669.30 771.12h-5.0M1246.50 749.86h5.0M1669.30 749.86h-5.0M1246.50 728.60h5.0M1669.30 728.60h-5.0M1246.50 686.08h5.0M1669.30 686.08h-5.0M1246.50 664.82h5.0M1669.30 664.82h-5.0M1246.50 643.56h5.0M1669.30 643.56h-5.0" fill="none" stroke="#000" stroke-width="2.7" stroke-linejoin="miter"/>
<text transform="translate(1236.10,1057.40) scale(0.82,1)" font-size="28.1" text-anchor="end" >0</text>
<text transform="translate(1236.10,972.36) scale(0.82,1)" font-size="28.1" text-anchor="end" >2</text>
<text transform="translate(1236.10,887.32) scale(0.82,1)" font-size="28.1" text-anchor="end" >4</text>
<text transform="translate(1236.10,802.28) scale(0.82,1)" font-size="28.1" text-anchor="end" >6</text>
<text transform="translate(1236.10,717.24) scale(0.82,1)" font-size="28.1" text-anchor="end" >8</text>
<text transform="translate(1236.10,632.20) scale(0.82,1)" font-size="28.1" text-anchor="end" >10</text>
<text transform="translate(1333.80,1088.10) scale(0.82,1)" font-size="28.1" text-anchor="middle" >12/29</text>
<text transform="translate(1424.00,1088.10) scale(0.82,1)" font-size="28.1" text-anchor="middle" >01/02</text>
<text transform="translate(1514.20,1088.10) scale(0.82,1)" font-size="28.1" text-anchor="middle" >01/06</text>
<text transform="translate(1604.40,1088.10) scale(0.82,1)" font-size="28.1" text-anchor="middle" >01/10</text>
<text transform="translate(1457.60,607.30) scale(0.82,1)" font-size="28.1" text-anchor="middle" >2026/01/07 21 UT</text>
<text transform="translate(1457.80,1123.90) scale(0.82,1)" font-size="28.200000000000003" text-anchor="middle" >start time 2025/12/25 03 UT</text>
<line x1="1556.90" y1="622.30" x2="1556.90" y2="1047.50" stroke="#000" stroke-width="1.7" stroke-dasharray="11.7 4.8" stroke-linecap="butt"/>
<polyline points="1246.4,854.4 1252.1,858.1 1257.8,865.5 1263.4,875.4 1269.1,886.0 1274.6,895.2 1280.3,906.4 1286.0,915.6 1291.6,920.6 1297.3,915.0 1302.8,911.9 1308.5,911.3 1314.2,900.2 1317.9,896.5 1325.3,908.2 1331.0,921.8 1336.7,934.8 1346.4,939.7 1353.8,935.4 1360.6,926.1 1366.1,926.7 1371.7,936.6 1375.4,947.1 1382.2,929.8 1389.6,919.9 1393.0,912.5 1398.7,903.3 1404.4,894.6 1409.9,889.7 1415.6,892.1 1421.2,902.7 1426.9,915.6 1432.4,920.0 1438.1,923.7 1443.8,929.2 1448.4,936.0 1454.6,936.0 1460.1,924.8 1465.7,918.0 1472.5,914.9 1477.5,918.7 1483.0,921.7 1491.1,914.3 1497.9,919.3 1505.3,929.2 1508.6,936.5 1513.2,947.3 1514.2,955.3 1518.4,966.6 1519.5,975.1 1523.0,987.1 1525.9,979.4 1531.5,969.1 1536.8,962.4 1539.3,959.6 1546.4,964.2 1553.1,968.1 1556.6,971.2 1563.0,968.1 1566.5,960.3 1571.4,949.0 1576.4,941.9 1583.8,933.8 1591.2,935.2 1598.3,944.7 1602.5,951.3 1607.2,952.3 1611.5,946.1 1616.8,939.9 1624.2,930.3" fill="none" stroke="#ffa500" stroke-width="2.4" stroke-dasharray="12.5 7.7" stroke-linejoin="round" />
<polyline points="1246.5,905.8 1249.3,919.9 1252.1,948.3 1255.0,948.3 1257.8,948.3 1260.6,1005.0 1263.4,976.6 1266.2,990.8 1269.1,948.3 1271.9,962.5 1274.7,962.5 1277.5,962.5 1280.3,905.8 1283.1,1019.2 1286.0,1019.2 1288.8,990.8 1291.6,919.9 1294.4,962.5 1297.2,976.6 1300.1,1005.0 1302.9,1005.0 1305.7,962.5 1308.5,976.6 1311.3,948.3 1314.2,1019.2 1317.0,1005.0 1319.8,962.5 1322.6,976.6 1325.4,919.9 1328.3,934.1 1331.1,948.3 1333.9,934.1 1336.7,934.1 1339.5,948.3 1342.3,948.3 1345.2,976.6 1348.0,1005.0 1350.8,1033.3 1353.6,976.6 1356.4,990.8 1359.3,990.8 1362.1,976.6 1364.9,990.8 1367.7,934.1 1370.5,934.1 1373.4,976.6 1376.2,1005.0 1379.0,962.5 1381.8,990.8 1384.6,962.5 1387.5,976.6 1390.3,905.8 1393.1,1005.0 1395.9,1005.0 1398.7,990.8 1401.5,962.5 1404.4,919.9 1407.2,934.1 1410.0,948.3 1412.8,905.8 1415.6,948.3 1418.5,948.3 1421.3,934.1 1424.1,919.9 1426.9,877.4 1429.7,905.8 1432.6,948.3 1435.4,891.6 1438.2,905.8 1441.0,834.9 1443.8,863.2 1446.6,919.9 1449.5,919.9 1452.3,962.5 1455.1,962.5 1457.9,919.9 1460.7,934.1 1463.6,948.3 1466.4,1005.0 1469.2,1033.3 1472.0,1047.5 1474.8,1047.5 1477.7,1019.2 1480.5,1033.3 1483.3,1005.0 1486.1,976.6 1488.9,919.9 1491.8,905.8 1494.6,877.4 1497.4,849.1 1500.2,934.1 1503.0,934.1 1505.8,1019.2 1508.7,1033.3 1511.5,976.6 1514.3,1019.2 1517.1,1033.3 1519.9,1005.0 1522.8,962.5 1525.6,948.3 1528.4,1033.3 1531.2,1033.3 1534.0,1033.3 1536.9,1033.3 1539.7,1033.3 1542.5,1047.5 1545.3,1033.3 1548.1,1019.2 1551.0,1019.2 1553.8,962.5 1556.6,962.5" fill="none" stroke="#000" stroke-width="2.4" stroke-linejoin="round" stroke-linejoin="miter"/>
<line x1="1267.30" y1="653.20" x2="1317.90" y2="653.20" stroke="#000" stroke-width="2.4" stroke-linecap="butt"/>
<line x1="1268.00" y1="687.90" x2="1317.90" y2="687.90" stroke="#ffa500" stroke-width="2.4" stroke-dasharray="12.5 7.7" stroke-linecap="butt"/>
<text transform="translate(1334.70,661.40) scale(0.82,1)" font-size="24.4" text-anchor="start" >GFZ Planetary K-Index</text>
<text transform="translate(1335.40,696.50) scale(0.82,1)" font-size="24.4" text-anchor="start" >IPS Planetary K-Index</text>
<path d="M1796.50 622.40H2221.00V1047.50H1796.50Z" fill="none" stroke="#000" stroke-width="3.3" stroke-linejoin="miter"/>
<path d="M1881.40 1047.50v-12.3M1881.40 622.40v12.3M1966.30 1047.50v-12.3M1966.30 622.40v12.3M2051.20 1047.50v-12.3M2051.20 622.40v12.3M2136.10 1047.50v-12.3M2136.10 622.40v12.3M1817.72 1047.50v-5.0M1817.72 622.40v5.0M1838.95 1047.50v-5.0M1838.95 622.40v5.0M1860.17 1047.50v-5.0M1860.17 622.40v5.0M1902.62 1047.50v-5.0M1902.62 622.40v5.0M1923.85 1047.50v-5.0M1923.85 622.40v5.0M1945.08 1047.50v-5.0M1945.08 622.40v5.0M1987.53 1047.50v-5.0M1987.53 622.40v5.0M2008.75 1047.50v-5.0M2008.75 622.40v5.0M2029.97 1047.50v-5.0M2029.97 622.40v5.0M2072.43 1047.50v-5.0M2072.43 622.40v5.0M2093.65 1047.50v-5.0M2093.65 622.40v5.0M2114.88 1047.50v-5.0M2114.88 622.40v5.0M2157.32 1047.50v-5.0M2157.32 622.40v5.0M2178.55 1047.50v-5.0M2178.55 622.40v5.0M2199.78 1047.50v-5.0M2199.78 622.40v5.0M1796.50 962.48h12.3M2221.00 962.48h-12.3M1796.50 877.46h12.3M2221.00 877.46h-12.3M1796.50 792.44h12.3M2221.00 792.44h-12.3M1796.50 707.42h12.3M2221.00 707.42h-12.3M1796.50 1026.24h5.0M2221.00 1026.24h-5.0M1796.50 1004.99h5.0M2221.00 1004.99h-5.0M1796.50 983.74h5.0M2221.00 983.74h-5.0M1796.50 941.23h5.0M2221.00 941.23h-5.0M1796.50 919.97h5.0M2221.00 919.97h-5.0M1796.50 898.71h5.0M2221.00 898.71h-5.0M1796.50 856.20h5.0M2221.00 856.20h-5.0M1796.50 834.95h5.0M2221.00 834.95h-5.0M1796.50 813.69h5.0M2221.00 813.69h-5.0M1796.50 771.18h5.0M2221.00 771.18h-5.0M1796.50 749.93h5.0M2221.00 749.93h-5.0M1796.50 728.67h5.0M2221.00 728.67h-5.0M1796.50 686.16h5.0M2221.00 686.16h-5.0M1796.50 664.91h5.0M2221.00 664.91h-5.0M1796.50 643.65h5.0M2221.00 643.65h-5.0" fill="none" stroke="#000" stroke-width="2.7" stroke-linejoin="miter"/>
<text transform="translate(1786.10,1057.40) scale(0.82,1)" font-size="28.1" text-anchor="end" >0</text>
<text transform="translate(1786.10,972.38) scale(0.82,1)" font-size="28.1" text-anchor="end" >2</text>
<text transform="translate(1786.10,887.36) scale(0.82,1)" font-size="28.1" text-anchor="end" >4</text>
<text transform="translate(1786.10,802.34) scale(0.82,1)" font-size="28.1" text-anchor="end" >6</text>
<text transform="translate(1786.10,717.32) scale(0.82,1)" font-size="28.1" text-anchor="end" >8</text>
<text transform="translate(1786.10,632.30) scale(0.82,1)" font-size="28.1" text-anchor="end" >10</text>
<text transform="translate(1796.50,1088.10) scale(0.82,1)" font-size="28.1" text-anchor="middle" >0</text>
<text transform="translate(1881.40,1088.10) scale(0.82,1)" font-size="28.1" text-anchor="middle" >2</text>
<text transform="translate(1966.30,1088.10) scale(0.82,1)" font-size="28.1" text-anchor="middle" >4</text>
<text transform="translate(2051.20,1088.10) scale(0.82,1)" font-size="28.1" text-anchor="middle" >6</text>
<text transform="translate(2136.10,1088.10) scale(0.82,1)" font-size="28.1" text-anchor="middle" >8</text>
<text transform="translate(2221.00,1088.10) scale(0.82,1)" font-size="28.1" text-anchor="middle" >10</text>
<text transform="translate(2001.40,1114.60) scale(0.82,1)" font-size="28.200000000000003" text-anchor="middle" >IPS Planetary K-Index</text>
<text transform="translate(1749.70,845.30) rotate(-90) scale(0.82,1)" font-size="28.200000000000003" text-anchor="middle" >GFZ Planetary K-Index</text>
<text transform="translate(1822.80,664.60) scale(0.82,1)" font-size="25.2" text-anchor="start" >Correlation 0.383</text>
<path d="M1986.0 905.8h6.4M1989.2 902.6v6.4M1986.3 902.9l5.8 5.8M1986.3 908.7l5.8 -5.8M1982.3 948.3h6.4M1985.5 945.1v6.4M1982.7 945.4l5.8 5.8M1982.7 951.2l5.8 -5.8M1975.0 948.3h6.4M1978.2 945.1v6.4M1975.3 945.4l5.8 5.8M1975.3 951.2l5.8 -5.8M1965.0 976.6h6.4M1968.2 973.4v6.4M1965.3 973.8l5.8 5.8M1965.3 979.5l5.8 -5.8M1954.6 948.3h6.4M1957.8 945.1v6.4M1954.9 945.4l5.8 5.8M1954.9 951.2l5.8 -5.8M1945.2 962.5h6.4M1948.4 959.3v6.4M1945.5 959.6l5.8 5.8M1945.5 965.4l5.8 -5.8M1934.2 905.8h6.4M1937.4 902.6v6.4M1934.5 902.9l5.8 5.8M1934.5 908.7l5.8 -5.8M1925.0 1019.2h6.4M1928.2 1016.0v6.4M1925.3 1016.3l5.8 5.8M1925.3 1022.0l5.8 -5.8M1920.0 920.0h6.4M1923.2 916.8v6.4M1920.4 917.1l5.8 5.8M1920.4 922.9l5.8 -5.8M1925.5 976.6h6.4M1928.7 973.4v6.4M1925.9 973.8l5.8 5.8M1925.9 979.5l5.8 -5.8M1928.7 1005.0h6.4M1931.9 1001.8v6.4M1929.0 1002.1l5.8 5.8M1929.0 1007.9l5.8 -5.8M1929.3 976.6h6.4M1932.5 973.4v6.4M1929.6 973.8l5.8 5.8M1929.6 979.5l5.8 -5.8M1940.3 1019.2h6.4M1943.5 1016.0v6.4M1940.6 1016.3l5.8 5.8M1940.6 1022.0l5.8 -5.8M1941.1 962.5h6.4M1944.3 959.3v6.4M1941.4 959.6l5.8 5.8M1941.4 965.4l5.8 -5.8M1932.1 920.0h6.4M1935.3 916.8v6.4M1932.4 917.1l5.8 5.8M1932.4 922.9l5.8 -5.8M1918.7 948.3h6.4M1921.9 945.1v6.4M1919.0 945.4l5.8 5.8M1919.0 951.2l5.8 -5.8M1905.8 934.1h6.4M1909.0 930.9v6.4M1906.1 931.3l5.8 5.8M1906.1 937.0l5.8 -5.8M1903.0 948.3h6.4M1906.2 945.1v6.4M1903.3 945.4l5.8 5.8M1903.3 951.2l5.8 -5.8M1901.9 1005.0h6.4M1905.1 1001.8v6.4M1902.2 1002.1l5.8 5.8M1902.2 1007.9l5.8 -5.8M1905.2 976.6h6.4M1908.4 973.4v6.4M1905.5 973.8l5.8 5.8M1905.5 979.5l5.8 -5.8M1912.7 990.8h6.4M1915.9 987.6v6.4M1913.0 987.9l5.8 5.8M1913.0 993.7l5.8 -5.8M1914.0 990.8h6.4M1917.2 987.6v6.4M1914.4 987.9l5.8 5.8M1914.4 993.7l5.8 -5.8M1906.1 934.1h6.4M1909.3 930.9v6.4M1906.4 931.3l5.8 5.8M1906.4 937.0l5.8 -5.8M1895.4 1005.0h6.4M1898.6 1001.8v6.4M1895.8 1002.1l5.8 5.8M1895.8 1007.9l5.8 -5.8M1909.8 990.8h6.4M1913.0 987.6v6.4M1910.1 987.9l5.8 5.8M1910.1 993.7l5.8 -5.8M1917.8 976.6h6.4M1921.0 973.4v6.4M1918.1 973.8l5.8 5.8M1918.1 979.5l5.8 -5.8M1928.2 1005.0h6.4M1931.4 1001.8v6.4M1928.5 1002.1l5.8 5.8M1928.5 1007.9l5.8 -5.8M1937.4 990.8h6.4M1940.6 987.6v6.4M1937.7 987.9l5.8 5.8M1937.7 993.7l5.8 -5.8M1945.9 920.0h6.4M1949.1 916.8v6.4M1946.3 917.1l5.8 5.8M1946.3 922.9l5.8 -5.8M1950.8 948.3h6.4M1954.0 945.1v6.4M1951.2 945.4l5.8 5.8M1951.2 951.2l5.8 -5.8M1948.4 948.3h6.4M1951.6 945.1v6.4M1948.7 945.4l5.8 5.8M1948.7 951.2l5.8 -5.8M1937.7 934.1h6.4M1940.9 930.9v6.4M1938.0 931.3l5.8 5.8M1938.0 937.0l5.8 -5.8M1924.9 877.5h6.4M1928.1 874.3v6.4M1925.2 874.6l5.8 5.8M1925.2 880.3l5.8 -5.8M1920.5 948.3h6.4M1923.7 945.1v6.4M1920.9 945.4l5.8 5.8M1920.9 951.2l5.8 -5.8M1916.9 905.8h6.4M1920.1 902.6v6.4M1917.2 902.9l5.8 5.8M1917.2 908.7l5.8 -5.8M1911.3 863.3h6.4M1914.5 860.1v6.4M1911.7 860.4l5.8 5.8M1911.7 866.2l5.8 -5.8M1904.6 920.0h6.4M1907.8 916.8v6.4M1905.0 917.1l5.8 5.8M1905.0 922.9l5.8 -5.8M1905.7 962.5h6.4M1908.9 959.3v6.4M1906.0 959.6l5.8 5.8M1906.0 965.4l5.8 -5.8M1916.5 934.1h6.4M1919.7 930.9v6.4M1916.8 931.3l5.8 5.8M1916.8 937.0l5.8 -5.8M1922.9 1005.0h6.4M1926.1 1001.8v6.4M1923.2 1002.1l5.8 5.8M1923.2 1007.9l5.8 -5.8M1925.4 1047.5h6.4M1928.6 1044.3v6.4M1925.7 1044.6l5.8 5.8M1925.7 1050.4l5.8 -5.8M1921.8 1019.2h6.4M1925.0 1016.0v6.4M1922.1 1016.3l5.8 5.8M1922.1 1022.0l5.8 -5.8M1919.1 1005.0h6.4M1922.3 1001.8v6.4M1919.4 1002.1l5.8 5.8M1919.4 1007.9l5.8 -5.8M1924.3 920.0h6.4M1927.5 916.8v6.4M1924.6 917.1l5.8 5.8M1924.6 922.9l5.8 -5.8M1923.7 877.5h6.4M1926.9 874.3v6.4M1924.0 874.6l5.8 5.8M1924.0 880.3l5.8 -5.8M1918.2 934.1h6.4M1921.4 930.9v6.4M1918.5 931.3l5.8 5.8M1918.5 937.0l5.8 -5.8M1910.2 1019.2h6.4M1913.4 1016.0v6.4M1910.5 1016.3l5.8 5.8M1910.5 1022.0l5.8 -5.8M1897.3 976.6h6.4M1900.5 973.4v6.4M1897.6 973.8l5.8 5.8M1897.6 979.5l5.8 -5.8M1877.5 1033.3h6.4M1880.7 1030.1v6.4M1877.9 1030.4l5.8 5.8M1877.9 1036.2l5.8 -5.8M1854.5 962.5h6.4M1857.7 959.3v6.4M1854.8 959.6l5.8 5.8M1854.8 965.4l5.8 -5.8M1865.9 1033.3h6.4M1869.1 1030.1v6.4M1866.2 1030.4l5.8 5.8M1866.2 1036.2l5.8 -5.8M1874.7 1033.3h6.4M1877.9 1030.1v6.4M1875.1 1030.4l5.8 5.8M1875.1 1036.2l5.8 -5.8M1880.8 1033.3h6.4M1884.0 1030.1v6.4M1881.2 1030.4l5.8 5.8M1881.2 1036.2l5.8 -5.8M1877.2 1033.3h6.4M1880.4 1030.1v6.4M1877.5 1030.4l5.8 5.8M1877.5 1036.2l5.8 -5.8M1873.8 1019.2h6.4M1877.0 1016.0v6.4M1874.2 1016.3l5.8 5.8M1874.2 1022.0l5.8 -5.8" fill="none" stroke="#000" stroke-width="1.4"/>
<path d="M1986.9 903.5h4.6v4.6h-4.6zM1983.2 946.0h4.6v4.6h-4.6zM1975.9 946.0h4.6v4.6h-4.6zM1965.9 974.4h4.6v4.6h-4.6zM1955.5 946.0h4.6v4.6h-4.6zM1946.1 960.2h4.6v4.6h-4.6zM1935.1 903.5h4.6v4.6h-4.6zM1925.9 1016.9h4.6v4.6h-4.6zM1920.9 917.7h4.6v4.6h-4.6zM1926.4 974.4h4.6v4.6h-4.6zM1929.6 1002.7h4.6v4.6h-4.6zM1930.2 974.4h4.6v4.6h-4.6zM1941.2 1016.9h4.6v4.6h-4.6zM1942.0 960.2h4.6v4.6h-4.6zM1933.0 917.7h4.6v4.6h-4.6zM1919.6 946.0h4.6v4.6h-4.6zM1906.7 931.8h4.6v4.6h-4.6zM1903.9 946.0h4.6v4.6h-4.6zM1902.8 1002.7h4.6v4.6h-4.6zM1906.1 974.4h4.6v4.6h-4.6zM1913.6 988.5h4.6v4.6h-4.6zM1914.9 988.5h4.6v4.6h-4.6zM1907.0 931.8h4.6v4.6h-4.6zM1896.3 1002.7h4.6v4.6h-4.6zM1910.7 988.5h4.6v4.6h-4.6zM1918.7 974.4h4.6v4.6h-4.6zM1929.1 1002.7h4.6v4.6h-4.6zM1938.3 988.5h4.6v4.6h-4.6zM1946.8 917.7h4.6v4.6h-4.6zM1951.7 946.0h4.6v4.6h-4.6zM1949.3 946.0h4.6v4.6h-4.6zM1938.6 931.8h4.6v4.6h-4.6zM1925.8 875.2h4.6v4.6h-4.6zM1921.4 946.0h4.6v4.6h-4.6zM1917.8 903.5h4.6v4.6h-4.6zM1912.2 861.0h4.6v4.6h-4.6zM1905.5 917.7h4.6v4.6h-4.6zM1906.6 960.2h4.6v4.6h-4.6zM1917.4 931.8h4.6v4.6h-4.6zM1923.8 1002.7h4.6v4.6h-4.6zM1926.3 1045.2h4.6v4.6h-4.6zM1922.7 1016.9h4.6v4.6h-4.6zM1920.0 1002.7h4.6v4.6h-4.6zM1925.2 917.7h4.6v4.6h-4.6zM1924.6 875.2h4.6v4.6h-4.6zM1919.1 931.8h4.6v4.6h-4.6zM1911.1 1016.9h4.6v4.6h-4.6zM1898.2 974.4h4.6v4.6h-4.6zM1878.4 1031.0h4.6v4.6h-4.6zM1855.4 960.2h4.6v4.6h-4.6zM1866.8 1031.0h4.6v4.6h-4.6zM1875.6 1031.0h4.6v4.6h-4.6zM1881.7 1031.0h4.6v4.6h-4.6zM1878.1 1031.0h4.6v4.6h-4.6zM1874.7 1016.9h4.6v4.6h-4.6z" fill="#000"/>
<line x1="1838.50" y1="1021.20" x2="1924.80" y2="965.90" stroke="#000" stroke-width="2.6" stroke-linecap="butt"/>
<rect x="2264.85" y="566.1" width="1.15" height="565.9" fill="#000"/>
</svg>
</body></html>
